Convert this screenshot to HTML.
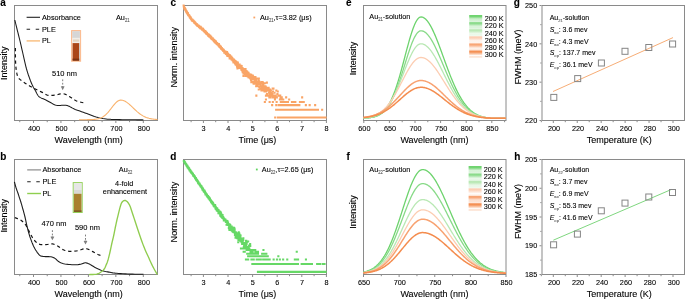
<!DOCTYPE html>
<html><head><meta charset="utf-8"><title>Figure</title>
<style>html,body{margin:0;padding:0;background:#fff;width:685px;height:300px;overflow:hidden}svg{display:block;will-change:transform}</style>
</head><body><svg width="685" height="300" viewBox="0 0 685 300" font-family='"Liberation Sans", sans-serif'><defs><linearGradient id="g0" x1="0" y1="0" x2="0" y2="1"><stop offset="0" stop-color="#6dd36d"/><stop offset="0.22" stop-color="#6dd36d" stop-opacity="0.95"/><stop offset="0.6" stop-color="#6dd36d" stop-opacity="0.25"/><stop offset="0.7" stop-color="#fff"/><stop offset="0.8" stop-color="#6dd36d" stop-opacity="0.2"/><stop offset="1" stop-color="#6dd36d" stop-opacity="0.3"/></linearGradient><linearGradient id="g1" x1="0" y1="0" x2="0" y2="1"><stop offset="0" stop-color="#88da88"/><stop offset="0.22" stop-color="#88da88" stop-opacity="0.95"/><stop offset="0.6" stop-color="#88da88" stop-opacity="0.25"/><stop offset="0.7" stop-color="#fff"/><stop offset="0.8" stop-color="#88da88" stop-opacity="0.2"/><stop offset="1" stop-color="#88da88" stop-opacity="0.3"/></linearGradient><linearGradient id="g2" x1="0" y1="0" x2="0" y2="1"><stop offset="0" stop-color="#b9e8b4"/><stop offset="0.22" stop-color="#b9e8b4" stop-opacity="0.95"/><stop offset="0.6" stop-color="#b9e8b4" stop-opacity="0.25"/><stop offset="0.7" stop-color="#fff"/><stop offset="0.8" stop-color="#b9e8b4" stop-opacity="0.2"/><stop offset="1" stop-color="#b9e8b4" stop-opacity="0.3"/></linearGradient><linearGradient id="g3" x1="0" y1="0" x2="0" y2="1"><stop offset="0" stop-color="#fccdb2"/><stop offset="0.22" stop-color="#fccdb2" stop-opacity="0.95"/><stop offset="0.6" stop-color="#fccdb2" stop-opacity="0.25"/><stop offset="0.7" stop-color="#fff"/><stop offset="0.8" stop-color="#fccdb2" stop-opacity="0.2"/><stop offset="1" stop-color="#fccdb2" stop-opacity="0.3"/></linearGradient><linearGradient id="g4" x1="0" y1="0" x2="0" y2="1"><stop offset="0" stop-color="#f8a271"/><stop offset="0.22" stop-color="#f8a271" stop-opacity="0.95"/><stop offset="0.6" stop-color="#f8a271" stop-opacity="0.25"/><stop offset="0.7" stop-color="#fff"/><stop offset="0.8" stop-color="#f8a271" stop-opacity="0.2"/><stop offset="1" stop-color="#f8a271" stop-opacity="0.3"/></linearGradient><linearGradient id="g5" x1="0" y1="0" x2="0" y2="1"><stop offset="0" stop-color="#f48c4e"/><stop offset="0.22" stop-color="#f48c4e" stop-opacity="0.95"/><stop offset="0.6" stop-color="#f48c4e" stop-opacity="0.25"/><stop offset="0.7" stop-color="#fff"/><stop offset="0.8" stop-color="#f48c4e" stop-opacity="0.2"/><stop offset="1" stop-color="#f48c4e" stop-opacity="0.3"/></linearGradient></defs><rect width="685" height="300" fill="#fff"/><text x="0.3" y="6.3" font-size="10" text-anchor="start" font-weight="bold" fill="#000" stroke="#000" stroke-width="0.1" >a</text><text x="0.3" y="160.1" font-size="10" text-anchor="start" font-weight="bold" fill="#000" stroke="#000" stroke-width="0.1" >b</text><text x="170.5" y="6.3" font-size="10" text-anchor="start" font-weight="bold" fill="#000" stroke="#000" stroke-width="0.1" >c</text><text x="170.3" y="160.1" font-size="10" text-anchor="start" font-weight="bold" fill="#000" stroke="#000" stroke-width="0.1" >d</text><text x="346" y="6.3" font-size="10" text-anchor="start" font-weight="bold" fill="#000" stroke="#000" stroke-width="0.1" >e</text><text x="346.5" y="160.1" font-size="10" text-anchor="start" font-weight="bold" fill="#000" stroke="#000" stroke-width="0.1" >f</text><text x="513.8" y="6.4" font-size="10" text-anchor="start" font-weight="bold" fill="#000" stroke="#000" stroke-width="0.1" >g</text><text x="514.3" y="160.1" font-size="10" text-anchor="start" font-weight="bold" fill="#000" stroke="#000" stroke-width="0.1" >h</text><rect x="14.5" y="5.5" width="143" height="115" fill="none" stroke="#8a8a8a" stroke-width="1"/><path d="M33.5 121v2M60.95 121v2M88.4 121v2M115.85 121v2M143.3 121v2M19.77 121v1.2M47.23 121v1.2M74.68 121v1.2M102.12 121v1.2M129.57 121v1.2" stroke="#8a8a8a" stroke-width="1" fill="none"/><text transform="translate(34.1,131.1) scale(0.9259,1)" font-size="7.88" text-anchor="middle" fill="#000" stroke="#000" stroke-width="0.1" >400</text><text transform="translate(61.55,131.1) scale(0.9259,1)" font-size="7.88" text-anchor="middle" fill="#000" stroke="#000" stroke-width="0.1" >500</text><text transform="translate(89,131.1) scale(0.9259,1)" font-size="7.88" text-anchor="middle" fill="#000" stroke="#000" stroke-width="0.1" >600</text><text transform="translate(116.45,131.1) scale(0.9259,1)" font-size="7.88" text-anchor="middle" fill="#000" stroke="#000" stroke-width="0.1" >700</text><text transform="translate(143.9,131.1) scale(0.9259,1)" font-size="7.88" text-anchor="middle" fill="#000" stroke="#000" stroke-width="0.1" >800</text><text x="88.7" y="142.9" font-size="9" text-anchor="middle" font-weight="normal" fill="#000" stroke="#000" stroke-width="0.1" >Wavelength (nm)</text><text transform="translate(6.6,63.3) rotate(-90)" font-size="9" text-anchor="middle" fill="#000" stroke="#000" stroke-width="0.1">Intensity</text><path d="M26.6 17.3H40" stroke="#222" stroke-width="1.1"/><text transform="translate(42,19.6) scale(0.9259,1)" font-size="7.88" text-anchor="start" fill="#000" stroke="#000" stroke-width="0.1" >Absorbance</text><path d="M26.6 29.2H40" stroke="#222" stroke-width="1.1" stroke-dasharray="3.5 5.6"/><text transform="translate(42,31.5) scale(0.9259,1)" font-size="7.88" text-anchor="start" fill="#000" stroke="#000" stroke-width="0.1" >PLE</text><path d="M26.6 40.9H40" stroke="#f9bd7c" stroke-width="1.4"/><text transform="translate(42,43.2) scale(0.9259,1)" font-size="7.88" text-anchor="start" fill="#000" stroke="#000" stroke-width="0.1" >PL</text><rect x="71.6" y="30.6" width="9" height="30.6" fill="#fde3cf" stroke="#fbb98c" stroke-width="1"/><rect x="72.3" y="31.2" width="7.6" height="6.7" fill="#d6d6d6"/><rect x="72.3" y="37.9" width="7.6" height="5.2" fill="#f1eee9"/><rect x="73" y="39.5" width="6.2" height="2.2" fill="#e3d3c0"/><rect x="72.6" y="43.1" width="6.6" height="17.6" fill="#ab4618"/><rect x="79.2" y="43.1" width="0.8" height="17.6" fill="#cfc8c2"/><rect x="72.6" y="58.6" width="6.6" height="2" fill="#7d3210"/><text transform="translate(116,19.8) scale(0.9259,1)" font-size="7.88" text-anchor="start" fill="#000" stroke="#000" stroke-width="0.1" >Au<tspan font-size="4.5" dy="2" fill="#555" stroke="#555">21</tspan></text><text transform="translate(52,76.1) scale(0.9259,1)" font-size="8.10" text-anchor="start" fill="#000" stroke="#000" stroke-width="0.1" >510 nm</text><path d="M62.7 79.4V86" stroke="#7e7e7e" stroke-width="1" stroke-dasharray="1.8 1.6" fill="none"/><path d="M60.8 86.6Q62.7 85.6 64.6 86.6L62.7 90.2Z" fill="#7e7e7e"/><path d="M14.8 20 L15.03 20.94 L15.34 22.22 L15.71 23.75 L16.13 25.44 L16.56 27.22 L17 29 L17.45 30.81 L17.94 32.74 L18.45 34.75 L18.97 36.81 L19.49 38.91 L20 41 L20.5 43.09 L20.99 45.2 L21.47 47.34 L21.97 49.52 L22.48 51.73 L23 54 L23.54 56.37 L24.1 58.85 L24.66 61.38 L25.24 63.87 L25.82 66.27 L26.4 68.5 L27 70.58 L27.61 72.57 L28.22 74.47 L28.84 76.26 L29.43 77.94 L30 79.5 L30.54 80.93 L31.07 82.24 L31.58 83.44 L32.07 84.54 L32.55 85.55 L33 86.5 L33.42 87.33 L33.8 88.02 L34.17 88.62 L34.53 89.2 L34.9 89.81 L35.3 90.5 L35.73 91.31 L36.18 92.2 L36.64 93.12 L37.1 94.01 L37.56 94.82 L38 95.5 L38.41 96.02 L38.79 96.43 L39.16 96.75 L39.56 97.03 L39.99 97.3 L40.5 97.6 L41.08 97.91 L41.7 98.19 L42.37 98.46 L43.08 98.74 L43.82 99.05 L44.6 99.4 L45.41 99.81 L46.27 100.25 L47.16 100.72 L48.09 101.21 L49.03 101.7 L50 102.2 L50.98 102.74 L51.98 103.33 L53.01 103.93 L54.06 104.49 L55.16 104.97 L56.3 105.3 L57.54 105.46 L58.89 105.47 L60.28 105.4 L61.64 105.29 L62.9 105.21 L64 105.2 L64.87 105.24 L65.56 105.27 L66.14 105.33 L66.72 105.43 L67.38 105.61 L68.2 105.9 L69.17 106.32 L70.22 106.86 L71.35 107.48 L72.56 108.13 L73.84 108.78 L75.2 109.4 L76.66 109.98 L78.21 110.54 L79.84 111.11 L81.53 111.68 L83.25 112.28 L85 112.9 L86.8 113.59 L88.68 114.33 L90.6 115.1 L92.52 115.84 L94.4 116.53 L96.2 117.1 L97.92 117.57 L99.6 117.96 L101.24 118.28 L102.84 118.56 L104.43 118.79 L106 119 L107.48 119.17 L108.84 119.28 L110.17 119.35 L111.59 119.4 L113.16 119.44 L115 119.5 L117.17 119.56 L119.61 119.62 L122.22 119.67 L124.89 119.72 L127.52 119.76 L130 119.8 L132.49 119.83 L135.11 119.85 L137.69 119.87 L140.06 119.88 L142.05 119.89 L143.5 119.9" stroke="#1c1c1c" stroke-width="1.05" fill="none" stroke-linejoin="round" /><path d="M15.4 48 L15.41 49.35 L15.41 51.26 L15.42 53.5 L15.43 55.85 L15.46 58.09 L15.5 60 L15.55 61.59 L15.62 63.04 L15.69 64.38 L15.78 65.63 L15.88 66.83 L16 68 L16.13 69.14 L16.28 70.22 L16.44 71.25 L16.61 72.22 L16.8 73.14 L17 74 L17.18 74.78 L17.33 75.47 L17.49 76.11 L17.71 76.73 L18.03 77.34 L18.5 78 L19.13 78.69 L19.9 79.38 L20.76 80.08 L21.7 80.78 L22.69 81.49 L23.7 82.2 L24.78 82.94 L25.96 83.73 L27.18 84.51 L28.4 85.27 L29.56 85.98 L30.6 86.6 L31.48 87.1 L32.24 87.51 L32.94 87.86 L33.64 88.2 L34.41 88.57 L35.3 89 L36.35 89.51 L37.51 90.08 L38.73 90.67 L39.97 91.27 L41.18 91.85 L42.3 92.4 L43.32 92.95 L44.26 93.52 L45.17 94.08 L46.09 94.59 L47.05 95.01 L48.1 95.3 L49.26 95.45 L50.49 95.48 L51.77 95.42 L53.07 95.3 L54.36 95.15 L55.6 95 L56.81 94.79 L58.02 94.48 L59.22 94.14 L60.39 93.84 L61.52 93.64 L62.6 93.6 L63.6 93.73 L64.52 93.98 L65.4 94.33 L66.28 94.76 L67.2 95.26 L68.2 95.8 L69.31 96.45 L70.51 97.23 L71.75 98.08 L72.98 98.92 L74.14 99.69 L75.2 100.3 L76.11 100.75 L76.92 101.09 L77.66 101.35 L78.39 101.57 L79.16 101.77 L80 102 L81 102.25 L82.13 102.51 L83.3 102.76 L84.4 102.98 L85.33 103.16 L86 103.3" stroke="#141414" stroke-width="1.2" fill="none" stroke-linejoin="round" stroke-dasharray="3.3 2.9" /><path d="M79 119.7 L79.66 119.7 L80.32 119.7 L80.98 119.7 L81.64 119.7 L82.3 119.7 L82.96 119.7 L83.62 119.7 L84.28 119.69 L84.94 119.69 L85.6 119.69 L86.26 119.69 L86.92 119.68 L87.58 119.67 L88.24 119.67 L88.89 119.66 L89.55 119.64 L90.21 119.63 L90.87 119.61 L91.53 119.59 L92.19 119.56 L92.85 119.52 L93.51 119.48 L94.17 119.42 L94.83 119.36 L95.49 119.28 L96.15 119.19 L96.81 119.08 L97.47 118.96 L98.13 118.81 L98.79 118.63 L99.45 118.43 L100.11 118.2 L100.77 117.94 L101.43 117.64 L102.09 117.31 L102.75 116.93 L103.41 116.51 L104.07 116.05 L104.73 115.54 L105.39 114.99 L106.05 114.39 L106.71 113.74 L107.37 113.05 L108.03 112.33 L108.68 111.56 L109.34 110.76 L110 109.94 L110.66 109.1 L111.32 108.24 L111.98 107.38 L112.64 106.52 L113.3 105.68 L113.96 104.86 L114.62 104.08 L115.28 103.34 L115.94 102.65 L116.6 102.04 L117.26 101.49 L117.92 101.03 L118.58 100.65 L119.24 100.37 L119.9 100.19 L120.56 100.1 L121.22 100.11 L121.88 100.18 L122.54 100.31 L123.2 100.48 L123.86 100.72 L124.52 101 L125.18 101.33 L125.84 101.71 L126.5 102.13 L127.16 102.59 L127.82 103.08 L128.47 103.61 L129.13 104.16 L129.79 104.74 L130.45 105.34 L131.11 105.96 L131.77 106.58 L132.43 107.22 L133.09 107.85 L133.75 108.49 L134.41 109.12 L135.07 109.75 L135.73 110.36 L136.39 110.97 L137.05 111.56 L137.71 112.12 L138.37 112.67 L139.03 113.2 L139.69 113.71 L140.35 114.19 L141.01 114.65 L141.67 115.08 L142.33 115.49 L142.99 115.88 L143.65 116.23 L144.31 116.57 L144.97 116.88 L145.63 117.16 L146.29 117.43 L146.95 117.67 L147.61 117.89 L148.26 118.09 L148.92 118.28 L149.58 118.44 L150.24 118.59 L150.9 118.73 L151.56 118.85 L152.22 118.96 L152.88 119.05 L153.54 119.14 L154.2 119.21 L154.86 119.28 L155.52 119.34 L156.18 119.39 L156.84 119.44 L157.5 119.47" stroke="#f9b26c" stroke-width="1.1" fill="none" stroke-linejoin="round" /><rect x="14.5" y="159.5" width="143" height="115" fill="none" stroke="#8a8a8a" stroke-width="1"/><path d="M33.5 275v2M60.95 275v2M88.4 275v2M115.85 275v2M143.3 275v2M19.77 275v1.2M47.23 275v1.2M74.68 275v1.2M102.12 275v1.2M129.57 275v1.2" stroke="#8a8a8a" stroke-width="1" fill="none"/><text transform="translate(34.1,285.1) scale(0.9259,1)" font-size="7.88" text-anchor="middle" fill="#000" stroke="#000" stroke-width="0.1" >400</text><text transform="translate(61.55,285.1) scale(0.9259,1)" font-size="7.88" text-anchor="middle" fill="#000" stroke="#000" stroke-width="0.1" >500</text><text transform="translate(89,285.1) scale(0.9259,1)" font-size="7.88" text-anchor="middle" fill="#000" stroke="#000" stroke-width="0.1" >600</text><text transform="translate(116.45,285.1) scale(0.9259,1)" font-size="7.88" text-anchor="middle" fill="#000" stroke="#000" stroke-width="0.1" >700</text><text transform="translate(143.9,285.1) scale(0.9259,1)" font-size="7.88" text-anchor="middle" fill="#000" stroke="#000" stroke-width="0.1" >800</text><text x="88.7" y="296.9" font-size="9" text-anchor="middle" font-weight="normal" fill="#000" stroke="#000" stroke-width="0.1" >Wavelength (nm)</text><text transform="translate(6.6,215.8) rotate(-90)" font-size="9" text-anchor="middle" fill="#000" stroke="#000" stroke-width="0.1">Intensity</text><path d="M27.2 169.9H41" stroke="#808080" stroke-width="1.1"/><text transform="translate(42.5,172.2) scale(0.9259,1)" font-size="7.88" text-anchor="start" fill="#000" stroke="#000" stroke-width="0.1" >Absorbance</text><path d="M27.2 181.8H41" stroke="#222" stroke-width="1.1" stroke-dasharray="3.5 5.6"/><text transform="translate(42.5,184.1) scale(0.9259,1)" font-size="7.88" text-anchor="start" fill="#000" stroke="#000" stroke-width="0.1" >PLE</text><path d="M27.2 193.5H41" stroke="#8fcf4f" stroke-width="1.4"/><text transform="translate(42.5,195.8) scale(0.9259,1)" font-size="7.88" text-anchor="start" fill="#000" stroke="#000" stroke-width="0.1" >PL</text><rect x="73.2" y="182.6" width="9" height="29.9" fill="#eef6e6" stroke="#93d05a" stroke-width="1"/><rect x="73.9" y="183.2" width="7.6" height="6.8" fill="#e6e6e6"/><rect x="73.9" y="190" width="7.6" height="3.8" fill="#d9d9d6"/><rect x="73.9" y="193.8" width="7.6" height="18.2" fill="#a9802f"/><rect x="73.9" y="210.3" width="7.6" height="1.7" fill="#7f5e22"/><text transform="translate(118.8,171.7) scale(0.9259,1)" font-size="7.88" text-anchor="start" fill="#000" stroke="#000" stroke-width="0.1" >Au<tspan font-size="4.5" dy="2" fill="#555" stroke="#555">22</tspan></text><text transform="translate(124.2,185.6) scale(0.9259,1)" font-size="7.88" text-anchor="middle" fill="#000" stroke="#000" stroke-width="0.1" >4-fold</text><text transform="translate(124.9,194.2) scale(0.9259,1)" font-size="7.88" text-anchor="middle" fill="#000" stroke="#000" stroke-width="0.1" >enhancement</text><text transform="translate(41.4,225.9) scale(0.9259,1)" font-size="8.10" text-anchor="start" fill="#000" stroke="#000" stroke-width="0.1" >470 nm</text><path d="M52.4 230.2V236.1" stroke="#7e7e7e" stroke-width="1" stroke-dasharray="1.8 1.6" fill="none"/><path d="M50.5 236.7Q52.4 235.7 54.3 236.7L52.4 240.3Z" fill="#7e7e7e"/><text transform="translate(74.9,230.4) scale(0.9259,1)" font-size="8.10" text-anchor="start" fill="#000" stroke="#000" stroke-width="0.1" >590 nm</text><path d="M85.5 234.6V240.4" stroke="#7e7e7e" stroke-width="1" stroke-dasharray="1.8 1.6" fill="none"/><path d="M83.6 241Q85.5 240 87.4 241L85.5 244.6Z" fill="#7e7e7e"/><path d="M14.4 181.8 L14.52 182.26 L14.68 182.9 L14.87 183.65 L15.08 184.46 L15.29 185.26 L15.5 186 L15.71 186.69 L15.92 187.37 L16.14 188.06 L16.37 188.73 L16.59 189.38 L16.8 190 L17 190.58 L17.2 191.13 L17.4 191.65 L17.6 192.17 L17.8 192.72 L18 193.3 L18.21 193.91 L18.41 194.54 L18.62 195.18 L18.83 195.85 L19.06 196.56 L19.3 197.3 L19.56 198.08 L19.83 198.88 L20.11 199.71 L20.4 200.59 L20.69 201.52 L21 202.5 L21.32 203.56 L21.64 204.68 L21.98 205.86 L22.32 207.06 L22.66 208.28 L23 209.5 L23.33 210.69 L23.66 211.87 L23.99 213.06 L24.32 214.3 L24.66 215.6 L25 217 L25.35 218.52 L25.7 220.15 L26.05 221.84 L26.41 223.57 L26.8 225.3 L27.2 227 L27.62 228.67 L28.04 230.33 L28.49 232 L28.96 233.67 L29.46 235.33 L30 237 L30.59 238.69 L31.21 240.42 L31.86 242.15 L32.55 243.84 L33.26 245.47 L34 247 L34.79 248.47 L35.63 249.93 L36.5 251.31 L37.37 252.59 L38.21 253.7 L39 254.6 L39.68 255.25 L40.26 255.68 L40.81 255.95 L41.41 256.12 L42.11 256.25 L43 256.4 L44.15 256.53 L45.52 256.59 L47 256.61 L48.48 256.63 L49.85 256.68 L51 256.8 L51.9 256.98 L52.63 257.18 L53.25 257.41 L53.81 257.69 L54.38 258.02 L55 258.4 L55.64 258.88 L56.26 259.44 L56.88 260.06 L57.52 260.69 L58.22 261.28 L59 261.8 L59.84 262.25 L60.7 262.67 L61.62 263.06 L62.63 263.41 L63.75 263.73 L65 264 L66.49 264.23 L68.2 264.42 L70.03 264.57 L71.85 264.69 L73.55 264.76 L75 264.8 L76.19 264.79 L77.2 264.73 L78.09 264.64 L78.91 264.51 L79.69 264.36 L80.5 264.2 L81.33 263.99 L82.13 263.71 L82.91 263.42 L83.65 263.14 L84.35 262.92 L85 262.8 L85.59 262.79 L86.11 262.85 L86.59 262.97 L87.06 263.13 L87.52 263.31 L88 263.5 L88.47 263.68 L88.9 263.87 L89.33 264.09 L89.8 264.34 L90.34 264.64 L91 265 L91.78 265.45 L92.67 265.99 L93.62 266.58 L94.63 267.19 L95.67 267.77 L96.7 268.3 L97.75 268.79 L98.83 269.26 L99.94 269.72 L101.06 270.15 L102.18 270.54 L103.3 270.9 L104.41 271.21 L105.53 271.47 L106.64 271.7 L107.76 271.91 L108.88 272.1 L110 272.3 L111.04 272.49 L111.99 272.67 L112.94 272.84 L113.98 273 L115.2 273.15 L116.7 273.3 L118.53 273.45 L120.64 273.6 L122.93 273.75 L125.31 273.89 L127.7 274 L130 274.1 L132.39 274.17 L134.99 274.22 L137.58 274.25 L139.99 274.27 L142.03 274.29 L143.5 274.3" stroke="#1c1c1c" stroke-width="1.1" fill="none" stroke-linejoin="round" /><path d="M14.8 217.6 L15.15 217.73 L15.64 217.9 L16.21 218.11 L16.83 218.34 L17.44 218.57 L18 218.8 L18.5 218.99 L18.98 219.16 L19.45 219.34 L19.93 219.55 L20.44 219.83 L21 220.2 L21.62 220.68 L22.3 221.24 L23 221.87 L23.7 222.56 L24.38 223.27 L25 224 L25.56 224.75 L26.07 225.54 L26.56 226.36 L27.04 227.21 L27.51 228.09 L28 229 L28.49 229.94 L28.96 230.93 L29.44 231.94 L29.93 232.96 L30.44 233.99 L31 235 L31.6 236.03 L32.22 237.1 L32.88 238.16 L33.56 239.19 L34.26 240.15 L35 241 L35.75 241.76 L36.52 242.45 L37.31 243.07 L38.15 243.61 L39.04 244.05 L40 244.4 L41.09 244.62 L42.3 244.7 L43.56 244.7 L44.81 244.64 L45.98 244.56 L47 244.5 L47.85 244.43 L48.59 244.31 L49.25 244.18 L49.85 244.05 L50.43 243.95 L51 243.9 L51.55 243.89 L52.04 243.9 L52.5 243.94 L52.96 244.02 L53.45 244.13 L54 244.3 L54.6 244.51 L55.22 244.77 L55.88 245.06 L56.56 245.4 L57.26 245.78 L58 246.2 L58.76 246.7 L59.56 247.29 L60.38 247.91 L61.22 248.54 L62.1 249.11 L63 249.6 L63.94 250 L64.93 250.36 L65.94 250.67 L66.96 250.94 L67.99 251.15 L69 251.3 L70.01 251.39 L71.04 251.41 L72.06 251.38 L73.07 251.3 L74.06 251.21 L75 251.1 L75.89 250.97 L76.74 250.81 L77.56 250.63 L78.37 250.43 L79.18 250.22 L80 250 L80.86 249.75 L81.74 249.45 L82.62 249.14 L83.48 248.85 L84.28 248.63 L85 248.5 L85.62 248.48 L86.15 248.54 L86.62 248.67 L87.07 248.83 L87.52 249.02 L88 249.2 L88.47 249.37 L88.89 249.54 L89.31 249.73 L89.78 249.96 L90.33 250.24 L91 250.6 L91.84 251.07 L92.81 251.64 L93.88 252.26 L94.96 252.9 L96.02 253.49 L97 254 L97.95 254.44 L98.93 254.84 L99.88 255.21 L100.74 255.53 L101.47 255.8 L102 256" stroke="#141414" stroke-width="1.2" fill="none" stroke-linejoin="round" stroke-dasharray="3.3 2.9" /><path d="M89 274.6 L90.47 274.54 L92.6 274.47 L94.85 274.34 L96.7 274.1 L97.98 273.75 L98.97 273.3 L99.84 272.78 L100.7 272.2 L101.6 271.57 L102.48 270.88 L103.28 270.13 L104 269.3 L104.59 268.41 L105.08 267.45 L105.53 266.42 L106 265.3 L106.5 264.13 L107 262.9 L107.5 261.55 L108 260 L108.51 258.19 L109.02 256.17 L109.52 254.06 L110 252 L110.44 250.01 L110.85 248.03 L111.26 246.04 L111.7 244 L112.19 241.89 L112.71 239.72 L113.23 237.57 L113.7 235.5 L114.11 233.54 L114.48 231.66 L114.84 229.82 L115.2 228 L115.56 226.25 L115.92 224.55 L116.29 222.83 L116.7 221 L117.17 218.97 L117.69 216.8 L118.22 214.66 L118.7 212.7 L119.13 210.96 L119.52 209.35 L119.9 207.87 L120.3 206.5 L120.69 205.23 L121.08 204.07 L121.5 203.05 L122 202.2 L122.61 201.5 L123.29 200.94 L124.01 200.57 L124.7 200.4 L125.36 200.47 L126.02 200.76 L126.67 201.22 L127.3 201.8 L127.92 202.5 L128.54 203.34 L129.13 204.31 L129.7 205.4 L130.2 206.56 L130.64 207.8 L131.12 209.24 L131.7 211 L132.43 213.19 L133.27 215.72 L134.14 218.4 L135 221 L135.82 223.48 L136.63 225.95 L137.45 228.44 L138.3 231 L139.21 233.7 L140.15 236.5 L141.09 239.25 L142 241.8 L142.86 244.12 L143.7 246.28 L144.51 248.3 L145.3 250.2 L146.06 251.92 L146.78 253.48 L147.49 254.97 L148.2 256.5 L148.9 258.08 L149.59 259.67 L150.29 261.25 L151 262.8 L151.75 264.36 L152.52 265.93 L153.29 267.43 L154 268.8 L154.67 270.04 L155.32 271.19 L155.91 272.19 L156.4 273 L156.79 273.58 L157.1 273.96 L157.33 274.21 L157.5 274.4" stroke="#8fcc4e" stroke-width="1.35" fill="none" stroke-linejoin="round" /><rect x="183.5" y="5.5" width="143" height="115" fill="none" stroke="#8a8a8a" stroke-width="1"/><path d="M203.4 121v2M228 121v2M252.6 121v2M277.2 121v2M301.8 121v2M326.4 121v2M191.1 121v1.2M215.7 121v1.2M240.3 121v1.2M264.9 121v1.2M289.5 121v1.2M314.1 121v1.2" stroke="#8a8a8a" stroke-width="1" fill="none"/><text transform="translate(203.6,131.1) scale(0.9259,1)" font-size="7.88" text-anchor="middle" fill="#000" stroke="#000" stroke-width="0.1" >3</text><text transform="translate(228.2,131.1) scale(0.9259,1)" font-size="7.88" text-anchor="middle" fill="#000" stroke="#000" stroke-width="0.1" >4</text><text transform="translate(252.8,131.1) scale(0.9259,1)" font-size="7.88" text-anchor="middle" fill="#000" stroke="#000" stroke-width="0.1" >5</text><text transform="translate(277.4,131.1) scale(0.9259,1)" font-size="7.88" text-anchor="middle" fill="#000" stroke="#000" stroke-width="0.1" >6</text><text transform="translate(302,131.1) scale(0.9259,1)" font-size="7.88" text-anchor="middle" fill="#000" stroke="#000" stroke-width="0.1" >7</text><text transform="translate(326.6,131.1) scale(0.9259,1)" font-size="7.88" text-anchor="middle" fill="#000" stroke="#000" stroke-width="0.1" >8</text><text x="257.4" y="142.9" font-size="9" text-anchor="middle" font-weight="normal" fill="#000" stroke="#000" stroke-width="0.1" >Time (μs)</text><text transform="translate(176.6,57.2) rotate(-90)" font-size="9.1" text-anchor="middle" fill="#000" stroke="#000" stroke-width="0.1">Norm. intensity</text><path d="M182.6 4.5h2.1v2.1h-2.1zM182.8 5.5h2.1v2.1h-2.1zM182.9 6.0h2.1v2.1h-2.1zM183.1 6.4h2.1v2.1h-2.1zM183.2 7.7h2.1v2.1h-2.1zM183.4 6.7h2.1v2.1h-2.1zM183.6 7.0h2.1v2.1h-2.1zM183.7 7.4h2.1v2.1h-2.1zM183.9 7.6h2.1v2.1h-2.1zM184.0 7.8h2.1v2.1h-2.1zM184.2 8.7h2.1v2.1h-2.1zM184.3 8.3h2.1v2.1h-2.1zM184.5 9.0h2.1v2.1h-2.1zM184.6 8.8h2.1v2.1h-2.1zM184.8 9.7h2.1v2.1h-2.1zM184.9 9.7h2.1v2.1h-2.1zM185.1 10.0h2.1v2.1h-2.1zM185.2 10.4h2.1v2.1h-2.1zM185.4 11.1h2.1v2.1h-2.1zM185.5 10.3h2.1v2.1h-2.1zM185.7 11.1h2.1v2.1h-2.1zM185.8 10.9h2.1v2.1h-2.1zM186.0 11.4h2.1v2.1h-2.1zM186.1 11.8h2.1v2.1h-2.1zM186.3 12.3h2.1v2.1h-2.1zM186.4 12.0h2.1v2.1h-2.1zM186.6 12.6h2.1v2.1h-2.1zM186.7 12.5h2.1v2.1h-2.1zM186.9 12.2h2.1v2.1h-2.1zM187.0 13.3h2.1v2.1h-2.1zM187.2 13.7h2.1v2.1h-2.1zM187.3 14.0h2.1v2.1h-2.1zM187.5 13.9h2.1v2.1h-2.1zM187.6 14.4h2.1v2.1h-2.1zM187.8 14.5h2.1v2.1h-2.1zM187.9 14.4h2.1v2.1h-2.1zM188.1 14.3h2.1v2.1h-2.1zM188.2 14.7h2.1v2.1h-2.1zM188.4 15.1h2.1v2.1h-2.1zM188.5 15.1h2.1v2.1h-2.1zM188.7 15.8h2.1v2.1h-2.1zM188.8 16.3h2.1v2.1h-2.1zM189.0 16.0h2.1v2.1h-2.1zM189.1 16.3h2.1v2.1h-2.1zM189.3 16.0h2.1v2.1h-2.1zM189.4 16.8h2.1v2.1h-2.1zM189.6 17.1h2.1v2.1h-2.1zM189.7 16.8h2.1v2.1h-2.1zM189.9 17.7h2.1v2.1h-2.1zM190.0 17.5h2.1v2.1h-2.1zM190.2 17.8h2.1v2.1h-2.1zM190.3 18.2h2.1v2.1h-2.1zM190.5 18.2h2.1v2.1h-2.1zM190.6 18.4h2.1v2.1h-2.1zM190.8 19.1h2.1v2.1h-2.1zM190.9 18.8h2.1v2.1h-2.1zM191.1 19.0h2.1v2.1h-2.1zM191.2 19.2h2.1v2.1h-2.1zM191.4 19.9h2.1v2.1h-2.1zM191.5 18.7h2.1v2.1h-2.1zM191.7 19.4h2.1v2.1h-2.1zM191.8 19.8h2.1v2.1h-2.1zM192.0 19.4h2.1v2.1h-2.1zM192.1 19.8h2.1v2.1h-2.1zM192.3 20.0h2.1v2.1h-2.1zM192.4 19.7h2.1v2.1h-2.1zM192.6 20.2h2.1v2.1h-2.1zM192.7 20.5h2.1v2.1h-2.1zM192.9 20.6h2.1v2.1h-2.1zM193.0 20.6h2.1v2.1h-2.1zM193.2 21.3h2.1v2.1h-2.1zM193.3 20.7h2.1v2.1h-2.1zM193.5 21.1h2.1v2.1h-2.1zM193.6 21.9h2.1v2.1h-2.1zM193.8 21.5h2.1v2.1h-2.1zM193.9 21.8h2.1v2.1h-2.1zM194.1 21.5h2.1v2.1h-2.1zM194.2 22.2h2.1v2.1h-2.1zM194.4 22.2h2.1v2.1h-2.1zM194.5 22.4h2.1v2.1h-2.1zM194.7 22.2h2.1v2.1h-2.1zM194.8 22.9h2.1v2.1h-2.1zM195.0 23.1h2.1v2.1h-2.1zM195.1 23.5h2.1v2.1h-2.1zM195.3 23.1h2.1v2.1h-2.1zM195.4 23.3h2.1v2.1h-2.1zM195.6 23.1h2.1v2.1h-2.1zM195.7 23.0h2.1v2.1h-2.1zM195.9 23.8h2.1v2.1h-2.1zM196.0 24.4h2.1v2.1h-2.1zM196.2 24.2h2.1v2.1h-2.1zM196.3 23.8h2.1v2.1h-2.1zM196.5 24.2h2.1v2.1h-2.1zM196.6 24.4h2.1v2.1h-2.1zM196.8 24.8h2.1v2.1h-2.1zM196.9 24.9h2.1v2.1h-2.1zM197.1 24.4h2.1v2.1h-2.1zM197.2 24.5h2.1v2.1h-2.1zM197.4 25.1h2.1v2.1h-2.1zM197.5 25.1h2.1v2.1h-2.1zM197.7 24.8h2.1v2.1h-2.1zM197.8 25.1h2.1v2.1h-2.1zM198.0 25.9h2.1v2.1h-2.1zM198.1 26.1h2.1v2.1h-2.1zM198.3 25.9h2.1v2.1h-2.1zM198.4 25.5h2.1v2.1h-2.1zM198.6 25.6h2.1v2.1h-2.1zM198.7 26.0h2.1v2.1h-2.1zM198.9 26.1h2.1v2.1h-2.1zM199.0 26.4h2.1v2.1h-2.1zM199.2 26.8h2.1v2.1h-2.1zM199.3 27.1h2.1v2.1h-2.1zM199.5 25.7h2.1v2.1h-2.1zM199.6 26.7h2.1v2.1h-2.1zM199.8 27.3h2.1v2.1h-2.1zM199.9 26.6h2.1v2.1h-2.1zM200.1 27.1h2.1v2.1h-2.1zM200.2 26.8h2.1v2.1h-2.1zM200.4 27.4h2.1v2.1h-2.1zM200.5 27.6h2.1v2.1h-2.1zM200.7 27.5h2.1v2.1h-2.1zM200.8 27.4h2.1v2.1h-2.1zM201.0 27.9h2.1v2.1h-2.1zM201.1 28.7h2.1v2.1h-2.1zM201.3 28.2h2.1v2.1h-2.1zM201.4 28.1h2.1v2.1h-2.1zM201.6 27.6h2.1v2.1h-2.1zM201.7 28.4h2.1v2.1h-2.1zM201.9 28.1h2.1v2.1h-2.1zM202.0 28.3h2.1v2.1h-2.1zM202.2 28.6h2.1v2.1h-2.1zM202.3 29.4h2.1v2.1h-2.1zM202.5 29.1h2.1v2.1h-2.1zM202.6 29.2h2.1v2.1h-2.1zM202.8 29.7h2.1v2.1h-2.1zM202.9 29.4h2.1v2.1h-2.1zM203.1 29.9h2.1v2.1h-2.1zM203.2 29.7h2.1v2.1h-2.1zM203.4 30.4h2.1v2.1h-2.1zM203.5 30.2h2.1v2.1h-2.1zM203.7 30.7h2.1v2.1h-2.1zM203.8 31.1h2.1v2.1h-2.1zM204.0 30.0h2.1v2.1h-2.1zM204.1 30.5h2.1v2.1h-2.1zM204.3 31.1h2.1v2.1h-2.1zM204.4 31.3h2.1v2.1h-2.1zM204.6 30.4h2.1v2.1h-2.1zM204.7 30.8h2.1v2.1h-2.1zM204.9 31.2h2.1v2.1h-2.1zM205.0 32.1h2.1v2.1h-2.1zM205.2 31.4h2.1v2.1h-2.1zM205.3 32.4h2.1v2.1h-2.1zM205.5 31.7h2.1v2.1h-2.1zM205.6 32.7h2.1v2.1h-2.1zM205.8 32.8h2.1v2.1h-2.1zM205.9 32.1h2.1v2.1h-2.1zM206.1 32.6h2.1v2.1h-2.1zM206.2 33.1h2.1v2.1h-2.1zM206.4 33.0h2.1v2.1h-2.1zM206.5 33.3h2.1v2.1h-2.1zM206.7 33.3h2.1v2.1h-2.1zM206.8 33.3h2.1v2.1h-2.1zM207.0 33.3h2.1v2.1h-2.1zM207.1 34.2h2.1v2.1h-2.1zM207.3 34.7h2.1v2.1h-2.1zM207.4 33.5h2.1v2.1h-2.1zM207.6 34.0h2.1v2.1h-2.1zM207.7 34.8h2.1v2.1h-2.1zM207.9 33.7h2.1v2.1h-2.1zM208.0 34.1h2.1v2.1h-2.1zM208.2 34.0h2.1v2.1h-2.1zM208.3 35.7h2.1v2.1h-2.1zM208.5 35.4h2.1v2.1h-2.1zM208.6 34.7h2.1v2.1h-2.1zM208.8 35.3h2.1v2.1h-2.1zM208.9 34.9h2.1v2.1h-2.1zM209.1 35.5h2.1v2.1h-2.1zM209.2 34.8h2.1v2.1h-2.1zM209.4 36.4h2.1v2.1h-2.1zM209.5 36.2h2.1v2.1h-2.1zM209.7 36.4h2.1v2.1h-2.1zM209.8 36.5h2.1v2.1h-2.1zM210.0 37.1h2.1v2.1h-2.1zM210.1 35.8h2.1v2.1h-2.1zM210.3 36.6h2.1v2.1h-2.1zM210.4 36.7h2.1v2.1h-2.1zM210.6 37.6h2.1v2.1h-2.1zM210.7 37.3h2.1v2.1h-2.1zM210.9 38.1h2.1v2.1h-2.1zM211.0 37.3h2.1v2.1h-2.1zM211.2 37.7h2.1v2.1h-2.1zM211.3 37.3h2.1v2.1h-2.1zM211.5 37.6h2.1v2.1h-2.1zM211.6 37.8h2.1v2.1h-2.1zM211.8 37.6h2.1v2.1h-2.1zM211.9 38.4h2.1v2.1h-2.1zM212.1 38.6h2.1v2.1h-2.1zM212.2 38.7h2.1v2.1h-2.1zM212.4 39.5h2.1v2.1h-2.1zM212.5 38.7h2.1v2.1h-2.1zM212.7 39.5h2.1v2.1h-2.1zM212.8 38.8h2.1v2.1h-2.1zM213.0 40.1h2.1v2.1h-2.1zM213.1 39.2h2.1v2.1h-2.1zM213.3 39.6h2.1v2.1h-2.1zM213.4 39.8h2.1v2.1h-2.1zM213.6 40.7h2.1v2.1h-2.1zM213.7 40.6h2.1v2.1h-2.1zM213.9 41.3h2.1v2.1h-2.1zM214.0 39.8h2.1v2.1h-2.1zM214.2 40.5h2.1v2.1h-2.1zM214.3 40.2h2.1v2.1h-2.1zM214.5 41.2h2.1v2.1h-2.1zM214.6 40.4h2.1v2.1h-2.1zM214.8 41.1h2.1v2.1h-2.1zM214.9 40.5h2.1v2.1h-2.1zM215.1 42.0h2.1v2.1h-2.1zM215.2 41.8h2.1v2.1h-2.1zM215.4 41.8h2.1v2.1h-2.1zM215.5 42.5h2.1v2.1h-2.1zM215.7 43.0h2.1v2.1h-2.1zM215.8 42.5h2.1v2.1h-2.1zM216.0 41.9h2.1v2.1h-2.1zM216.1 42.7h2.1v2.1h-2.1zM216.3 42.4h2.1v2.1h-2.1zM216.4 43.1h2.1v2.1h-2.1zM216.6 43.1h2.1v2.1h-2.1zM216.7 43.7h2.1v2.1h-2.1zM216.9 43.2h2.1v2.1h-2.1zM217.0 43.4h2.1v2.1h-2.1zM217.2 43.0h2.1v2.1h-2.1zM217.3 43.5h2.1v2.1h-2.1zM217.5 44.2h2.1v2.1h-2.1zM217.6 44.6h2.1v2.1h-2.1zM217.8 43.0h2.1v2.1h-2.1zM217.9 43.7h2.1v2.1h-2.1zM218.1 44.4h2.1v2.1h-2.1zM218.2 45.5h2.1v2.1h-2.1zM218.4 45.6h2.1v2.1h-2.1zM218.5 44.6h2.1v2.1h-2.1zM218.7 45.1h2.1v2.1h-2.1zM218.8 45.7h2.1v2.1h-2.1zM219.0 45.2h2.1v2.1h-2.1zM219.1 46.3h2.1v2.1h-2.1zM219.3 45.9h2.1v2.1h-2.1zM219.4 45.7h2.1v2.1h-2.1zM219.6 45.6h2.1v2.1h-2.1zM219.7 46.3h2.1v2.1h-2.1zM219.9 46.0h2.1v2.1h-2.1zM220.0 47.6h2.1v2.1h-2.1zM220.2 47.3h2.1v2.1h-2.1zM220.3 47.1h2.1v2.1h-2.1zM220.5 47.5h2.1v2.1h-2.1zM220.6 47.1h2.1v2.1h-2.1zM220.8 47.2h2.1v2.1h-2.1zM220.9 47.5h2.1v2.1h-2.1zM221.1 48.2h2.1v2.1h-2.1zM221.2 48.2h2.1v2.1h-2.1zM221.4 48.4h2.1v2.1h-2.1zM221.5 48.8h2.1v2.1h-2.1zM221.7 48.6h2.1v2.1h-2.1zM221.8 48.5h2.1v2.1h-2.1zM222.0 49.5h2.1v2.1h-2.1zM222.1 48.2h2.1v2.1h-2.1zM222.3 49.1h2.1v2.1h-2.1zM222.4 49.8h2.1v2.1h-2.1zM222.6 49.7h2.1v2.1h-2.1zM222.7 49.2h2.1v2.1h-2.1zM222.9 49.5h2.1v2.1h-2.1zM223.0 50.2h2.1v2.1h-2.1zM223.2 50.1h2.1v2.1h-2.1zM223.3 51.7h2.1v2.1h-2.1zM223.5 51.1h2.1v2.1h-2.1zM223.6 50.4h2.1v2.1h-2.1zM223.8 51.1h2.1v2.1h-2.1zM223.9 51.4h2.1v2.1h-2.1zM224.1 50.9h2.1v2.1h-2.1zM224.2 50.5h2.1v2.1h-2.1zM224.4 51.7h2.1v2.1h-2.1zM224.5 52.2h2.1v2.1h-2.1zM224.7 50.8h2.1v2.1h-2.1zM224.8 52.5h2.1v2.1h-2.1zM225.0 53.0h2.1v2.1h-2.1zM225.1 52.3h2.1v2.1h-2.1zM225.3 51.5h2.1v2.1h-2.1zM225.4 52.4h2.1v2.1h-2.1zM225.6 52.3h2.1v2.1h-2.1zM225.7 53.2h2.1v2.1h-2.1zM225.9 53.5h2.1v2.1h-2.1zM226.0 50.9h2.1v2.1h-2.1zM226.2 54.7h2.1v2.1h-2.1zM226.3 53.2h2.1v2.1h-2.1zM226.5 52.3h2.1v2.1h-2.1zM226.6 54.5h2.1v2.1h-2.1zM226.8 54.8h2.1v2.1h-2.1zM226.9 54.2h2.1v2.1h-2.1zM227.1 53.6h2.1v2.1h-2.1zM227.2 53.1h2.1v2.1h-2.1zM227.4 54.0h2.1v2.1h-2.1zM227.5 54.5h2.1v2.1h-2.1zM227.7 54.5h2.1v2.1h-2.1zM227.8 55.1h2.1v2.1h-2.1zM228.0 53.9h2.1v2.1h-2.1zM228.1 54.1h2.1v2.1h-2.1zM228.3 54.8h2.1v2.1h-2.1zM228.4 55.2h2.1v2.1h-2.1zM228.6 57.3h2.1v2.1h-2.1zM228.7 54.3h2.1v2.1h-2.1zM228.9 56.0h2.1v2.1h-2.1zM229.0 54.5h2.1v2.1h-2.1zM229.2 55.9h2.1v2.1h-2.1zM229.3 55.5h2.1v2.1h-2.1zM229.5 55.4h2.1v2.1h-2.1zM229.6 56.2h2.1v2.1h-2.1zM229.8 55.7h2.1v2.1h-2.1zM229.9 57.5h2.1v2.1h-2.1zM230.1 55.5h2.1v2.1h-2.1zM230.2 55.8h2.1v2.1h-2.1zM230.4 58.0h2.1v2.1h-2.1zM230.5 58.3h2.1v2.1h-2.1zM230.7 57.9h2.1v2.1h-2.1zM230.8 58.4h2.1v2.1h-2.1zM231.0 56.8h2.1v2.1h-2.1zM231.1 57.7h2.1v2.1h-2.1zM231.3 57.2h2.1v2.1h-2.1zM231.4 59.2h2.1v2.1h-2.1zM231.6 58.9h2.1v2.1h-2.1zM231.7 58.5h2.1v2.1h-2.1zM231.9 59.3h2.1v2.1h-2.1zM232.0 58.2h2.1v2.1h-2.1zM232.2 58.8h2.1v2.1h-2.1zM232.3 60.5h2.1v2.1h-2.1zM232.5 61.3h2.1v2.1h-2.1zM232.6 59.2h2.1v2.1h-2.1zM232.8 58.4h2.1v2.1h-2.1zM232.9 59.0h2.1v2.1h-2.1zM233.1 59.0h2.1v2.1h-2.1zM233.2 60.0h2.1v2.1h-2.1zM233.4 60.0h2.1v2.1h-2.1zM233.5 60.1h2.1v2.1h-2.1zM233.7 59.7h2.1v2.1h-2.1zM233.8 61.3h2.1v2.1h-2.1zM234.0 62.4h2.1v2.1h-2.1zM234.1 60.0h2.1v2.1h-2.1zM234.3 61.3h2.1v2.1h-2.1zM234.4 61.1h2.1v2.1h-2.1zM234.6 60.9h2.1v2.1h-2.1zM234.7 63.6h2.1v2.1h-2.1zM234.9 61.8h2.1v2.1h-2.1zM235.0 60.5h2.1v2.1h-2.1zM235.2 62.1h2.1v2.1h-2.1zM235.3 62.2h2.1v2.1h-2.1zM235.5 61.3h2.1v2.1h-2.1zM235.6 63.0h2.1v2.1h-2.1zM235.8 62.1h2.1v2.1h-2.1zM235.9 65.1h2.1v2.1h-2.1zM236.1 62.6h2.1v2.1h-2.1zM236.2 65.9h2.1v2.1h-2.1zM236.4 67.3h2.1v2.1h-2.1zM236.5 61.2h2.1v2.1h-2.1zM236.7 63.0h2.1v2.1h-2.1zM236.8 61.9h2.1v2.1h-2.1zM237.0 63.7h2.1v2.1h-2.1zM237.1 65.7h2.1v2.1h-2.1zM237.3 65.9h2.1v2.1h-2.1zM237.4 64.3h2.1v2.1h-2.1zM237.6 64.2h2.1v2.1h-2.1zM237.7 64.9h2.1v2.1h-2.1zM237.9 65.4h2.1v2.1h-2.1zM238.0 63.9h2.1v2.1h-2.1zM238.2 64.6h2.1v2.1h-2.1zM238.3 66.7h2.1v2.1h-2.1zM238.5 66.8h2.1v2.1h-2.1zM238.6 63.4h2.1v2.1h-2.1zM238.8 65.3h2.1v2.1h-2.1zM238.9 66.1h2.1v2.1h-2.1zM239.1 66.3h2.1v2.1h-2.1zM239.2 66.4h2.1v2.1h-2.1zM239.4 66.1h2.1v2.1h-2.1zM239.5 66.4h2.1v2.1h-2.1zM239.7 67.2h2.1v2.1h-2.1zM239.8 67.1h2.1v2.1h-2.1zM240.0 66.1h2.1v2.1h-2.1zM240.1 64.8h2.1v2.1h-2.1zM240.3 67.7h2.1v2.1h-2.1zM240.4 68.7h2.1v2.1h-2.1zM240.6 64.9h2.1v2.1h-2.1zM240.7 69.0h2.1v2.1h-2.1zM240.9 67.6h2.1v2.1h-2.1zM241.0 67.9h2.1v2.1h-2.1zM241.2 67.8h2.1v2.1h-2.1zM241.3 69.7h2.1v2.1h-2.1zM241.5 66.9h2.1v2.1h-2.1zM241.6 71.1h2.1v2.1h-2.1zM241.8 68.8h2.1v2.1h-2.1zM241.9 68.3h2.1v2.1h-2.1zM242.1 68.7h2.1v2.1h-2.1zM242.2 68.6h2.1v2.1h-2.1zM242.4 74.8h2.1v2.1h-2.1zM242.5 72.3h2.1v2.1h-2.1zM242.7 68.5h2.1v2.1h-2.1zM242.8 70.3h2.1v2.1h-2.1zM243.0 67.9h2.1v2.1h-2.1zM243.1 68.8h2.1v2.1h-2.1zM243.3 70.1h2.1v2.1h-2.1zM243.4 71.7h2.1v2.1h-2.1zM243.6 71.8h2.1v2.1h-2.1zM243.7 72.5h2.1v2.1h-2.1zM243.9 72.3h2.1v2.1h-2.1zM244.0 73.2h2.1v2.1h-2.1zM244.2 68.4h2.1v2.1h-2.1zM244.3 68.8h2.1v2.1h-2.1zM244.5 68.1h2.1v2.1h-2.1zM244.6 74.9h2.1v2.1h-2.1zM244.8 71.5h2.1v2.1h-2.1zM244.9 72.4h2.1v2.1h-2.1zM245.1 71.8h2.1v2.1h-2.1zM245.2 69.9h2.1v2.1h-2.1zM245.4 75.0h2.1v2.1h-2.1zM245.5 72.7h2.1v2.1h-2.1zM245.7 72.6h2.1v2.1h-2.1zM245.8 73.8h2.1v2.1h-2.1zM246.0 72.2h2.1v2.1h-2.1zM246.1 70.4h2.1v2.1h-2.1zM246.3 71.3h2.1v2.1h-2.1zM246.4 72.1h2.1v2.1h-2.1zM246.6 71.6h2.1v2.1h-2.1zM246.7 75.3h2.1v2.1h-2.1zM246.9 72.1h2.1v2.1h-2.1zM247.0 74.7h2.1v2.1h-2.1zM247.2 73.1h2.1v2.1h-2.1zM247.3 73.6h2.1v2.1h-2.1zM247.5 71.8h2.1v2.1h-2.1zM247.6 76.3h2.1v2.1h-2.1zM247.8 74.5h2.1v2.1h-2.1zM247.9 74.4h2.1v2.1h-2.1zM248.1 75.1h2.1v2.1h-2.1zM248.2 73.4h2.1v2.1h-2.1zM248.4 73.2h2.1v2.1h-2.1zM248.5 74.6h2.1v2.1h-2.1zM248.7 76.4h2.1v2.1h-2.1zM248.8 73.8h2.1v2.1h-2.1zM249.0 76.7h2.1v2.1h-2.1zM249.1 76.7h2.1v2.1h-2.1zM249.3 77.1h2.1v2.1h-2.1zM249.4 73.6h2.1v2.1h-2.1zM249.6 75.8h2.1v2.1h-2.1zM249.7 77.8h2.1v2.1h-2.1zM249.9 78.5h2.1v2.1h-2.1zM250.0 78.9h2.1v2.1h-2.1zM250.2 73.8h2.1v2.1h-2.1zM250.3 81.1h2.1v2.1h-2.1zM250.5 78.9h2.1v2.1h-2.1zM250.6 75.5h2.1v2.1h-2.1zM250.8 74.6h2.1v2.1h-2.1zM250.9 77.4h2.1v2.1h-2.1zM251.1 75.8h2.1v2.1h-2.1zM251.2 75.8h2.1v2.1h-2.1zM251.4 75.5h2.1v2.1h-2.1zM251.5 77.8h2.1v2.1h-2.1zM251.7 74.6h2.1v2.1h-2.1zM251.8 77.4h2.1v2.1h-2.1zM252.0 75.2h2.1v2.1h-2.1zM252.1 81.1h2.1v2.1h-2.1zM252.3 76.4h2.1v2.1h-2.1zM252.4 81.6h2.1v2.1h-2.1zM252.6 82.7h2.1v2.1h-2.1zM252.7 77.8h2.1v2.1h-2.1zM252.9 81.1h2.1v2.1h-2.1zM253.0 78.1h2.1v2.1h-2.1zM253.2 82.2h2.1v2.1h-2.1zM253.3 76.1h2.1v2.1h-2.1zM253.5 79.3h2.1v2.1h-2.1zM253.6 82.7h2.1v2.1h-2.1zM253.8 79.3h2.1v2.1h-2.1zM253.9 77.8h2.1v2.1h-2.1zM254.1 82.2h2.1v2.1h-2.1zM254.2 78.9h2.1v2.1h-2.1zM254.4 76.1h2.1v2.1h-2.1zM254.5 78.5h2.1v2.1h-2.1zM254.7 80.7h2.1v2.1h-2.1zM254.8 82.2h2.1v2.1h-2.1zM255.0 79.3h2.1v2.1h-2.1zM255.1 85.2h2.1v2.1h-2.1zM255.3 94.6h2.1v2.1h-2.1zM255.4 82.7h2.1v2.1h-2.1zM255.6 84.6h2.1v2.1h-2.1zM255.7 77.4h2.1v2.1h-2.1zM255.9 81.1h2.1v2.1h-2.1zM256.0 84.6h2.1v2.1h-2.1zM256.2 85.2h2.1v2.1h-2.1zM256.3 80.7h2.1v2.1h-2.1zM256.5 84.6h2.1v2.1h-2.1zM256.6 83.9h2.1v2.1h-2.1zM256.8 82.7h2.1v2.1h-2.1zM256.9 82.2h2.1v2.1h-2.1zM257.1 82.2h2.1v2.1h-2.1zM257.2 82.2h2.1v2.1h-2.1zM257.4 79.8h2.1v2.1h-2.1zM257.5 78.9h2.1v2.1h-2.1zM257.7 88.5h2.1v2.1h-2.1zM257.8 77.4h2.1v2.1h-2.1zM258.0 82.7h2.1v2.1h-2.1zM258.1 80.2h2.1v2.1h-2.1zM258.3 86.0h2.1v2.1h-2.1zM258.4 82.7h2.1v2.1h-2.1zM258.6 82.7h2.1v2.1h-2.1zM258.7 83.3h2.1v2.1h-2.1zM258.9 81.6h2.1v2.1h-2.1zM259.0 82.2h2.1v2.1h-2.1zM259.2 87.6h2.1v2.1h-2.1zM259.3 84.6h2.1v2.1h-2.1zM259.5 82.2h2.1v2.1h-2.1zM259.6 82.7h2.1v2.1h-2.1zM259.8 85.2h2.1v2.1h-2.1zM259.9 85.2h2.1v2.1h-2.1zM260.1 85.2h2.1v2.1h-2.1zM260.2 88.5h2.1v2.1h-2.1zM260.4 89.5h2.1v2.1h-2.1zM260.5 81.1h2.1v2.1h-2.1zM260.7 86.8h2.1v2.1h-2.1zM260.8 85.2h2.1v2.1h-2.1zM261.0 87.6h2.1v2.1h-2.1zM261.1 82.2h2.1v2.1h-2.1zM261.3 81.1h2.1v2.1h-2.1zM261.4 86.8h2.1v2.1h-2.1zM261.6 84.6h2.1v2.1h-2.1zM261.7 88.5h2.1v2.1h-2.1zM261.9 81.6h2.1v2.1h-2.1zM262.0 83.9h2.1v2.1h-2.1zM262.2 89.5h2.1v2.1h-2.1zM262.3 83.3h2.1v2.1h-2.1zM262.5 85.2h2.1v2.1h-2.1zM262.6 85.2h2.1v2.1h-2.1zM262.8 86.0h2.1v2.1h-2.1zM262.9 89.5h2.1v2.1h-2.1zM263.1 89.5h2.1v2.1h-2.1zM263.2 85.2h2.1v2.1h-2.1zM263.4 87.6h2.1v2.1h-2.1zM263.5 90.5h2.1v2.1h-2.1zM263.7 82.2h2.1v2.1h-2.1zM263.8 88.5h2.1v2.1h-2.1zM264.0 89.5h2.1v2.1h-2.1zM264.1 90.5h2.1v2.1h-2.1zM264.3 86.0h2.1v2.1h-2.1zM264.4 85.2h2.1v2.1h-2.1zM264.6 87.6h2.1v2.1h-2.1zM264.7 86.0h2.1v2.1h-2.1zM264.9 94.6h2.1v2.1h-2.1zM265.0 90.5h2.1v2.1h-2.1zM265.2 90.5h2.1v2.1h-2.1zM265.3 88.5h2.1v2.1h-2.1zM265.5 87.6h2.1v2.1h-2.1zM265.8 81.6h2.1v2.1h-2.1zM265.9 93.1h2.1v2.1h-2.1zM266.1 88.5h2.1v2.1h-2.1zM266.2 86.8h2.1v2.1h-2.1zM266.4 86.8h2.1v2.1h-2.1zM266.5 89.5h2.1v2.1h-2.1zM266.8 94.6h2.1v2.1h-2.1zM267.0 87.6h2.1v2.1h-2.1zM267.1 94.6h2.1v2.1h-2.1zM267.3 94.6h2.1v2.1h-2.1zM267.6 86.8h2.1v2.1h-2.1zM267.7 89.5h2.1v2.1h-2.1zM267.9 94.6h2.1v2.1h-2.1zM268.0 91.7h2.1v2.1h-2.1zM268.2 91.7h2.1v2.1h-2.1zM268.3 96.3h2.1v2.1h-2.1zM268.5 93.1h2.1v2.1h-2.1zM268.6 90.5h2.1v2.1h-2.1zM268.8 90.5h2.1v2.1h-2.1zM268.9 88.5h2.1v2.1h-2.1zM269.1 91.7h2.1v2.1h-2.1zM269.2 94.6h2.1v2.1h-2.1zM269.4 91.7h2.1v2.1h-2.1zM269.5 96.3h2.1v2.1h-2.1zM269.8 89.5h2.1v2.1h-2.1zM270.0 94.6h2.1v2.1h-2.1zM270.1 93.1h2.1v2.1h-2.1zM270.3 91.7h2.1v2.1h-2.1zM270.6 91.7h2.1v2.1h-2.1zM270.7 91.7h2.1v2.1h-2.1zM270.9 94.6h2.1v2.1h-2.1zM271.0 93.1h2.1v2.1h-2.1zM271.3 93.1h2.1v2.1h-2.1zM271.5 94.6h2.1v2.1h-2.1zM271.6 87.6h2.1v2.1h-2.1zM271.8 96.3h2.1v2.1h-2.1zM271.9 90.5h2.1v2.1h-2.1zM272.1 94.6h2.1v2.1h-2.1zM272.2 94.6h2.1v2.1h-2.1zM272.4 87.6h2.1v2.1h-2.1zM272.5 96.3h2.1v2.1h-2.1zM273.1 96.3h2.1v2.1h-2.1zM273.2 96.3h2.1v2.1h-2.1zM273.5 91.7h2.1v2.1h-2.1zM273.7 94.6h2.1v2.1h-2.1zM274.1 96.3h2.1v2.1h-2.1zM274.7 94.6h2.1v2.1h-2.1zM275.3 89.5h2.1v2.1h-2.1zM275.8 96.3h2.1v2.1h-2.1zM276.4 93.1h2.1v2.1h-2.1zM276.7 90.5h2.1v2.1h-2.1zM277.4 94.6h2.1v2.1h-2.1zM279.2 94.6h2.1v2.1h-2.1zM279.5 96.3h2.1v2.1h-2.1zM280.7 96.3h2.1v2.1h-2.1zM285.1 96.3h2.1v2.1h-2.1zM301.1 96.3h2.1v2.1h-2.1zM274.1 116.5h2.1v2.1h-2.1zM276.8 116.5h49.8v2.1h-49.8zM275.1 108.7h8.9v2.1h-8.9zM282.9 108.7h34.0v2.1h-34.0zM316.9 108.7h2.1v2.1h-2.1zM321.1 108.7h2.1v2.1h-2.1zM271.1 104.1h2.1v2.1h-2.1zM275.2 104.1h2.1v2.1h-2.1zM277.7 104.1h13.8v2.1h-13.8zM290.6 104.1h9.8v2.1h-9.8zM304.8 104.1h2.1v2.1h-2.1zM308.6 104.1h2.1v2.1h-2.1zM314.1 104.1h2.1v2.1h-2.1zM263.8 100.9h2.1v2.1h-2.1zM268.6 100.9h2.1v2.1h-2.1zM271.8 100.9h2.1v2.1h-2.1zM275.6 100.9h2.1v2.1h-2.1zM279.8 100.9h9.2v2.1h-9.2zM290.9 100.9h5.5v2.1h-5.5zM298.9 100.9h5.9v2.1h-5.9zM264.9 98.4h2.1v2.1h-2.1zM273.9 98.4h2.1v2.1h-2.1zM278.9 98.4h5.4v2.1h-5.4zM288.1 98.4h2.1v2.1h-2.1z" fill="#f9a466"/><rect x="253.4" y="16.6" width="1.8" height="1.8" fill="#f9a466"/><text transform="translate(260,20.2) scale(0.9259,1)" font-size="7.88" text-anchor="start" fill="#000" stroke="#000" stroke-width="0.1" >Au<tspan font-size="4.5" dy="2" fill="#555" stroke="#555">21</tspan><tspan dy="-2">,τ=3.82 (μs)</tspan></text><rect x="183.5" y="159.5" width="143" height="115" fill="none" stroke="#8a8a8a" stroke-width="1"/><path d="M203.4 275v2M228 275v2M252.6 275v2M277.2 275v2M301.8 275v2M326.4 275v2M191.1 275v1.2M215.7 275v1.2M240.3 275v1.2M264.9 275v1.2M289.5 275v1.2M314.1 275v1.2" stroke="#8a8a8a" stroke-width="1" fill="none"/><text transform="translate(203.6,285.1) scale(0.9259,1)" font-size="7.88" text-anchor="middle" fill="#000" stroke="#000" stroke-width="0.1" >3</text><text transform="translate(228.2,285.1) scale(0.9259,1)" font-size="7.88" text-anchor="middle" fill="#000" stroke="#000" stroke-width="0.1" >4</text><text transform="translate(252.8,285.1) scale(0.9259,1)" font-size="7.88" text-anchor="middle" fill="#000" stroke="#000" stroke-width="0.1" >5</text><text transform="translate(277.4,285.1) scale(0.9259,1)" font-size="7.88" text-anchor="middle" fill="#000" stroke="#000" stroke-width="0.1" >6</text><text transform="translate(302,285.1) scale(0.9259,1)" font-size="7.88" text-anchor="middle" fill="#000" stroke="#000" stroke-width="0.1" >7</text><text transform="translate(326.6,285.1) scale(0.9259,1)" font-size="7.88" text-anchor="middle" fill="#000" stroke="#000" stroke-width="0.1" >8</text><text x="257.4" y="296.9" font-size="9" text-anchor="middle" font-weight="normal" fill="#000" stroke="#000" stroke-width="0.1" >Time (μs)</text><text transform="translate(176.6,212.1) rotate(-90)" font-size="9.1" text-anchor="middle" fill="#000" stroke="#000" stroke-width="0.1">Norm. intensity</text><path d="M182.8 160.0h2.1v2.1h-2.1zM182.9 159.9h2.1v2.1h-2.1zM183.1 160.2h2.1v2.1h-2.1zM183.2 161.0h2.1v2.1h-2.1zM183.4 160.7h2.1v2.1h-2.1zM183.5 161.2h2.1v2.1h-2.1zM183.7 161.1h2.1v2.1h-2.1zM183.8 161.8h2.1v2.1h-2.1zM184.0 161.8h2.1v2.1h-2.1zM184.1 161.8h2.1v2.1h-2.1zM184.3 162.4h2.1v2.1h-2.1zM184.4 162.7h2.1v2.1h-2.1zM184.6 162.7h2.1v2.1h-2.1zM184.7 163.1h2.1v2.1h-2.1zM184.9 163.2h2.1v2.1h-2.1zM185.0 163.4h2.1v2.1h-2.1zM185.2 163.5h2.1v2.1h-2.1zM185.3 163.5h2.1v2.1h-2.1zM185.5 164.4h2.1v2.1h-2.1zM185.6 164.4h2.1v2.1h-2.1zM185.8 164.6h2.1v2.1h-2.1zM185.9 165.0h2.1v2.1h-2.1zM186.1 164.4h2.1v2.1h-2.1zM186.2 165.2h2.1v2.1h-2.1zM186.4 166.2h2.1v2.1h-2.1zM186.5 165.3h2.1v2.1h-2.1zM186.7 166.2h2.1v2.1h-2.1zM186.8 166.4h2.1v2.1h-2.1zM187.0 166.7h2.1v2.1h-2.1zM187.1 166.3h2.1v2.1h-2.1zM187.3 166.7h2.1v2.1h-2.1zM187.4 166.7h2.1v2.1h-2.1zM187.6 167.3h2.1v2.1h-2.1zM187.7 167.7h2.1v2.1h-2.1zM187.9 167.7h2.1v2.1h-2.1zM188.0 167.3h2.1v2.1h-2.1zM188.2 168.2h2.1v2.1h-2.1zM188.3 168.4h2.1v2.1h-2.1zM188.5 168.5h2.1v2.1h-2.1zM188.6 169.3h2.1v2.1h-2.1zM188.8 169.0h2.1v2.1h-2.1zM188.9 169.1h2.1v2.1h-2.1zM189.1 169.1h2.1v2.1h-2.1zM189.2 169.5h2.1v2.1h-2.1zM189.4 169.9h2.1v2.1h-2.1zM189.5 170.3h2.1v2.1h-2.1zM189.7 170.6h2.1v2.1h-2.1zM189.8 170.7h2.1v2.1h-2.1zM190.0 171.0h2.1v2.1h-2.1zM190.1 170.5h2.1v2.1h-2.1zM190.3 170.9h2.1v2.1h-2.1zM190.4 172.0h2.1v2.1h-2.1zM190.6 171.5h2.1v2.1h-2.1zM190.7 171.9h2.1v2.1h-2.1zM190.9 171.9h2.1v2.1h-2.1zM191.0 172.2h2.1v2.1h-2.1zM191.2 172.5h2.1v2.1h-2.1zM191.3 172.3h2.1v2.1h-2.1zM191.5 172.5h2.1v2.1h-2.1zM191.6 172.9h2.1v2.1h-2.1zM191.8 173.1h2.1v2.1h-2.1zM191.9 172.9h2.1v2.1h-2.1zM192.1 174.0h2.1v2.1h-2.1zM192.2 174.5h2.1v2.1h-2.1zM192.4 174.6h2.1v2.1h-2.1zM192.5 174.7h2.1v2.1h-2.1zM192.7 174.1h2.1v2.1h-2.1zM192.8 175.0h2.1v2.1h-2.1zM193.0 174.9h2.1v2.1h-2.1zM193.1 175.0h2.1v2.1h-2.1zM193.3 175.1h2.1v2.1h-2.1zM193.4 175.4h2.1v2.1h-2.1zM193.6 175.6h2.1v2.1h-2.1zM193.7 175.8h2.1v2.1h-2.1zM193.9 176.2h2.1v2.1h-2.1zM194.0 176.6h2.1v2.1h-2.1zM194.2 176.9h2.1v2.1h-2.1zM194.3 177.0h2.1v2.1h-2.1zM194.5 177.3h2.1v2.1h-2.1zM194.6 176.9h2.1v2.1h-2.1zM194.8 178.0h2.1v2.1h-2.1zM194.9 177.2h2.1v2.1h-2.1zM195.1 178.0h2.1v2.1h-2.1zM195.2 178.9h2.1v2.1h-2.1zM195.4 178.6h2.1v2.1h-2.1zM195.5 179.1h2.1v2.1h-2.1zM195.7 179.1h2.1v2.1h-2.1zM195.8 179.1h2.1v2.1h-2.1zM196.0 179.0h2.1v2.1h-2.1zM196.1 179.6h2.1v2.1h-2.1zM196.3 179.9h2.1v2.1h-2.1zM196.4 179.9h2.1v2.1h-2.1zM196.6 180.4h2.1v2.1h-2.1zM196.7 180.5h2.1v2.1h-2.1zM196.9 180.6h2.1v2.1h-2.1zM197.0 181.6h2.1v2.1h-2.1zM197.2 181.0h2.1v2.1h-2.1zM197.3 181.6h2.1v2.1h-2.1zM197.5 181.8h2.1v2.1h-2.1zM197.6 182.5h2.1v2.1h-2.1zM197.8 182.7h2.1v2.1h-2.1zM197.9 182.5h2.1v2.1h-2.1zM198.1 182.6h2.1v2.1h-2.1zM198.2 182.6h2.1v2.1h-2.1zM198.4 182.6h2.1v2.1h-2.1zM198.5 183.5h2.1v2.1h-2.1zM198.7 183.3h2.1v2.1h-2.1zM198.8 183.7h2.1v2.1h-2.1zM199.0 184.0h2.1v2.1h-2.1zM199.1 183.9h2.1v2.1h-2.1zM199.3 184.1h2.1v2.1h-2.1zM199.4 185.2h2.1v2.1h-2.1zM199.6 185.0h2.1v2.1h-2.1zM199.7 185.1h2.1v2.1h-2.1zM199.9 185.3h2.1v2.1h-2.1zM200.0 185.2h2.1v2.1h-2.1zM200.2 185.7h2.1v2.1h-2.1zM200.3 185.0h2.1v2.1h-2.1zM200.5 185.9h2.1v2.1h-2.1zM200.6 186.0h2.1v2.1h-2.1zM200.8 187.0h2.1v2.1h-2.1zM200.9 186.9h2.1v2.1h-2.1zM201.1 187.5h2.1v2.1h-2.1zM201.2 186.7h2.1v2.1h-2.1zM201.4 187.2h2.1v2.1h-2.1zM201.5 188.6h2.1v2.1h-2.1zM201.7 187.6h2.1v2.1h-2.1zM201.8 188.3h2.1v2.1h-2.1zM202.0 188.1h2.1v2.1h-2.1zM202.1 188.6h2.1v2.1h-2.1zM202.3 189.1h2.1v2.1h-2.1zM202.4 189.0h2.1v2.1h-2.1zM202.6 189.8h2.1v2.1h-2.1zM202.7 190.1h2.1v2.1h-2.1zM202.9 190.2h2.1v2.1h-2.1zM203.0 189.6h2.1v2.1h-2.1zM203.2 190.1h2.1v2.1h-2.1zM203.3 190.8h2.1v2.1h-2.1zM203.5 189.8h2.1v2.1h-2.1zM203.6 190.8h2.1v2.1h-2.1zM203.8 190.8h2.1v2.1h-2.1zM203.9 191.4h2.1v2.1h-2.1zM204.1 191.2h2.1v2.1h-2.1zM204.2 192.2h2.1v2.1h-2.1zM204.4 192.1h2.1v2.1h-2.1zM204.5 193.4h2.1v2.1h-2.1zM204.7 192.4h2.1v2.1h-2.1zM204.8 192.5h2.1v2.1h-2.1zM205.0 192.7h2.1v2.1h-2.1zM205.1 193.2h2.1v2.1h-2.1zM205.3 192.9h2.1v2.1h-2.1zM205.4 193.4h2.1v2.1h-2.1zM205.6 194.5h2.1v2.1h-2.1zM205.7 193.8h2.1v2.1h-2.1zM205.9 194.0h2.1v2.1h-2.1zM206.0 194.7h2.1v2.1h-2.1zM206.2 194.7h2.1v2.1h-2.1zM206.3 195.0h2.1v2.1h-2.1zM206.5 195.7h2.1v2.1h-2.1zM206.6 195.9h2.1v2.1h-2.1zM206.8 196.0h2.1v2.1h-2.1zM206.9 195.0h2.1v2.1h-2.1zM207.1 196.2h2.1v2.1h-2.1zM207.2 195.8h2.1v2.1h-2.1zM207.4 196.7h2.1v2.1h-2.1zM207.5 196.6h2.1v2.1h-2.1zM207.7 197.3h2.1v2.1h-2.1zM207.8 197.2h2.1v2.1h-2.1zM208.0 196.3h2.1v2.1h-2.1zM208.1 197.4h2.1v2.1h-2.1zM208.3 197.7h2.1v2.1h-2.1zM208.4 196.9h2.1v2.1h-2.1zM208.6 197.9h2.1v2.1h-2.1zM208.7 198.7h2.1v2.1h-2.1zM208.9 197.7h2.1v2.1h-2.1zM209.0 198.9h2.1v2.1h-2.1zM209.2 198.7h2.1v2.1h-2.1zM209.3 199.1h2.1v2.1h-2.1zM209.5 199.4h2.1v2.1h-2.1zM209.6 199.4h2.1v2.1h-2.1zM209.8 200.0h2.1v2.1h-2.1zM209.9 199.6h2.1v2.1h-2.1zM210.1 201.2h2.1v2.1h-2.1zM210.2 201.0h2.1v2.1h-2.1zM210.4 200.3h2.1v2.1h-2.1zM210.5 200.3h2.1v2.1h-2.1zM210.7 201.0h2.1v2.1h-2.1zM210.8 201.5h2.1v2.1h-2.1zM211.0 201.0h2.1v2.1h-2.1zM211.1 202.3h2.1v2.1h-2.1zM211.3 201.6h2.1v2.1h-2.1zM211.4 201.6h2.1v2.1h-2.1zM211.6 201.9h2.1v2.1h-2.1zM211.7 201.7h2.1v2.1h-2.1zM211.9 202.3h2.1v2.1h-2.1zM212.0 203.0h2.1v2.1h-2.1zM212.2 203.5h2.1v2.1h-2.1zM212.3 202.8h2.1v2.1h-2.1zM212.5 203.7h2.1v2.1h-2.1zM212.6 204.6h2.1v2.1h-2.1zM212.8 203.9h2.1v2.1h-2.1zM212.9 204.7h2.1v2.1h-2.1zM213.1 203.9h2.1v2.1h-2.1zM213.2 205.4h2.1v2.1h-2.1zM213.4 203.9h2.1v2.1h-2.1zM213.5 204.3h2.1v2.1h-2.1zM213.7 204.2h2.1v2.1h-2.1zM213.8 205.3h2.1v2.1h-2.1zM214.0 204.0h2.1v2.1h-2.1zM214.1 204.6h2.1v2.1h-2.1zM214.3 205.4h2.1v2.1h-2.1zM214.4 206.8h2.1v2.1h-2.1zM214.6 207.7h2.1v2.1h-2.1zM214.7 206.1h2.1v2.1h-2.1zM214.9 207.1h2.1v2.1h-2.1zM215.0 207.0h2.1v2.1h-2.1zM215.2 207.8h2.1v2.1h-2.1zM215.3 207.9h2.1v2.1h-2.1zM215.5 208.0h2.1v2.1h-2.1zM215.6 209.1h2.1v2.1h-2.1zM215.8 208.4h2.1v2.1h-2.1zM215.9 207.6h2.1v2.1h-2.1zM216.1 207.2h2.1v2.1h-2.1zM216.2 208.4h2.1v2.1h-2.1zM216.4 209.8h2.1v2.1h-2.1zM216.5 209.5h2.1v2.1h-2.1zM216.7 209.1h2.1v2.1h-2.1zM216.8 209.7h2.1v2.1h-2.1zM217.0 208.8h2.1v2.1h-2.1zM217.1 209.6h2.1v2.1h-2.1zM217.3 209.4h2.1v2.1h-2.1zM217.4 212.1h2.1v2.1h-2.1zM217.6 209.3h2.1v2.1h-2.1zM217.7 211.6h2.1v2.1h-2.1zM217.9 212.2h2.1v2.1h-2.1zM218.0 211.8h2.1v2.1h-2.1zM218.2 210.8h2.1v2.1h-2.1zM218.3 211.1h2.1v2.1h-2.1zM218.5 212.5h2.1v2.1h-2.1zM218.6 210.5h2.1v2.1h-2.1zM218.8 212.1h2.1v2.1h-2.1zM218.9 212.4h2.1v2.1h-2.1zM219.1 210.8h2.1v2.1h-2.1zM219.2 214.2h2.1v2.1h-2.1zM219.4 214.7h2.1v2.1h-2.1zM219.5 212.3h2.1v2.1h-2.1zM219.7 214.9h2.1v2.1h-2.1zM219.8 211.6h2.1v2.1h-2.1zM220.0 213.1h2.1v2.1h-2.1zM220.1 212.8h2.1v2.1h-2.1zM220.3 214.2h2.1v2.1h-2.1zM220.4 216.0h2.1v2.1h-2.1zM220.6 213.8h2.1v2.1h-2.1zM220.7 215.3h2.1v2.1h-2.1zM220.9 215.5h2.1v2.1h-2.1zM221.0 215.4h2.1v2.1h-2.1zM221.2 216.7h2.1v2.1h-2.1zM221.3 216.1h2.1v2.1h-2.1zM221.5 214.0h2.1v2.1h-2.1zM221.6 216.9h2.1v2.1h-2.1zM221.8 216.7h2.1v2.1h-2.1zM221.9 216.2h2.1v2.1h-2.1zM222.1 216.0h2.1v2.1h-2.1zM222.2 216.5h2.1v2.1h-2.1zM222.4 217.6h2.1v2.1h-2.1zM222.5 217.3h2.1v2.1h-2.1zM222.7 217.2h2.1v2.1h-2.1zM222.8 219.3h2.1v2.1h-2.1zM223.0 219.3h2.1v2.1h-2.1zM223.1 217.7h2.1v2.1h-2.1zM223.3 218.1h2.1v2.1h-2.1zM223.4 218.5h2.1v2.1h-2.1zM223.6 218.7h2.1v2.1h-2.1zM223.7 218.9h2.1v2.1h-2.1zM223.9 218.5h2.1v2.1h-2.1zM224.0 218.9h2.1v2.1h-2.1zM224.2 219.4h2.1v2.1h-2.1zM224.3 218.4h2.1v2.1h-2.1zM224.5 219.2h2.1v2.1h-2.1zM224.6 219.7h2.1v2.1h-2.1zM224.8 220.9h2.1v2.1h-2.1zM224.9 219.7h2.1v2.1h-2.1zM225.1 219.8h2.1v2.1h-2.1zM225.2 220.4h2.1v2.1h-2.1zM225.4 219.7h2.1v2.1h-2.1zM225.5 223.7h2.1v2.1h-2.1zM225.7 220.7h2.1v2.1h-2.1zM225.8 220.5h2.1v2.1h-2.1zM226.0 223.4h2.1v2.1h-2.1zM226.1 220.1h2.1v2.1h-2.1zM226.3 222.2h2.1v2.1h-2.1zM226.4 220.2h2.1v2.1h-2.1zM226.6 222.4h2.1v2.1h-2.1zM226.7 223.8h2.1v2.1h-2.1zM226.9 222.3h2.1v2.1h-2.1zM227.0 221.4h2.1v2.1h-2.1zM227.2 223.5h2.1v2.1h-2.1zM227.3 222.9h2.1v2.1h-2.1zM227.5 222.9h2.1v2.1h-2.1zM227.6 223.0h2.1v2.1h-2.1zM227.8 227.0h2.1v2.1h-2.1zM227.9 224.4h2.1v2.1h-2.1zM228.1 227.3h2.1v2.1h-2.1zM228.2 225.3h2.1v2.1h-2.1zM228.4 229.0h2.1v2.1h-2.1zM228.5 223.7h2.1v2.1h-2.1zM228.7 226.2h2.1v2.1h-2.1zM228.8 223.4h2.1v2.1h-2.1zM229.0 225.9h2.1v2.1h-2.1zM229.1 225.2h2.1v2.1h-2.1zM229.3 224.3h2.1v2.1h-2.1zM229.4 225.9h2.1v2.1h-2.1zM229.6 227.3h2.1v2.1h-2.1zM229.7 225.6h2.1v2.1h-2.1zM229.9 227.0h2.1v2.1h-2.1zM230.0 226.9h2.1v2.1h-2.1zM230.2 227.6h2.1v2.1h-2.1zM230.3 229.0h2.1v2.1h-2.1zM230.5 228.0h2.1v2.1h-2.1zM230.6 225.4h2.1v2.1h-2.1zM230.8 229.7h2.1v2.1h-2.1zM230.9 228.8h2.1v2.1h-2.1zM231.1 226.5h2.1v2.1h-2.1zM231.2 227.3h2.1v2.1h-2.1zM231.4 226.7h2.1v2.1h-2.1zM231.5 226.5h2.1v2.1h-2.1zM231.7 230.7h2.1v2.1h-2.1zM231.8 230.7h2.1v2.1h-2.1zM232.0 228.5h2.1v2.1h-2.1zM232.1 229.4h2.1v2.1h-2.1zM232.3 230.3h2.1v2.1h-2.1zM232.4 228.1h2.1v2.1h-2.1zM232.6 231.2h2.1v2.1h-2.1zM232.7 231.2h2.1v2.1h-2.1zM232.9 228.1h2.1v2.1h-2.1zM233.0 226.7h2.1v2.1h-2.1zM233.2 227.1h2.1v2.1h-2.1zM233.3 230.9h2.1v2.1h-2.1zM233.5 230.6h2.1v2.1h-2.1zM233.6 228.3h2.1v2.1h-2.1zM233.8 231.9h2.1v2.1h-2.1zM233.9 233.8h2.1v2.1h-2.1zM234.1 231.6h2.1v2.1h-2.1zM234.2 231.2h2.1v2.1h-2.1zM234.4 234.2h2.1v2.1h-2.1zM234.5 236.6h2.1v2.1h-2.1zM234.7 236.6h2.1v2.1h-2.1zM234.8 231.2h2.1v2.1h-2.1zM235.0 234.7h2.1v2.1h-2.1zM235.1 233.4h2.1v2.1h-2.1zM235.3 233.0h2.1v2.1h-2.1zM235.4 232.3h2.1v2.1h-2.1zM235.6 234.7h2.1v2.1h-2.1zM235.7 232.6h2.1v2.1h-2.1zM235.9 236.6h2.1v2.1h-2.1zM236.0 235.1h2.1v2.1h-2.1zM236.2 237.2h2.1v2.1h-2.1zM236.3 232.3h2.1v2.1h-2.1zM236.5 235.1h2.1v2.1h-2.1zM236.6 237.2h2.1v2.1h-2.1zM236.8 236.1h2.1v2.1h-2.1zM236.9 236.1h2.1v2.1h-2.1zM237.1 233.8h2.1v2.1h-2.1zM237.2 241.2h2.1v2.1h-2.1zM237.4 239.0h2.1v2.1h-2.1zM237.5 237.2h2.1v2.1h-2.1zM237.7 231.2h2.1v2.1h-2.1zM237.8 234.2h2.1v2.1h-2.1zM238.0 237.2h2.1v2.1h-2.1zM238.1 235.1h2.1v2.1h-2.1zM238.3 232.6h2.1v2.1h-2.1zM238.4 238.4h2.1v2.1h-2.1zM238.6 239.0h2.1v2.1h-2.1zM238.7 234.7h2.1v2.1h-2.1zM238.9 236.6h2.1v2.1h-2.1zM239.0 236.6h2.1v2.1h-2.1zM239.2 239.7h2.1v2.1h-2.1zM239.3 234.2h2.1v2.1h-2.1zM239.5 234.7h2.1v2.1h-2.1zM239.6 237.8h2.1v2.1h-2.1zM239.8 237.2h2.1v2.1h-2.1zM239.9 247.5h2.1v2.1h-2.1zM240.1 237.8h2.1v2.1h-2.1zM240.2 240.4h2.1v2.1h-2.1zM240.4 239.0h2.1v2.1h-2.1zM240.5 238.4h2.1v2.1h-2.1zM240.7 241.2h2.1v2.1h-2.1zM240.8 247.5h2.1v2.1h-2.1zM241.0 239.7h2.1v2.1h-2.1zM241.1 242.9h2.1v2.1h-2.1zM241.3 242.0h2.1v2.1h-2.1zM241.4 242.9h2.1v2.1h-2.1zM241.6 242.0h2.1v2.1h-2.1zM241.9 238.4h2.1v2.1h-2.1zM242.0 241.2h2.1v2.1h-2.1zM242.2 239.0h2.1v2.1h-2.1zM242.3 237.2h2.1v2.1h-2.1zM242.5 242.0h2.1v2.1h-2.1zM242.6 250.7h2.1v2.1h-2.1zM242.8 246.1h2.1v2.1h-2.1zM242.9 247.5h2.1v2.1h-2.1zM243.1 244.9h2.1v2.1h-2.1zM243.2 242.9h2.1v2.1h-2.1zM243.5 242.0h2.1v2.1h-2.1zM243.7 250.7h2.1v2.1h-2.1zM243.8 242.9h2.1v2.1h-2.1zM244.0 243.9h2.1v2.1h-2.1zM244.1 244.9h2.1v2.1h-2.1zM244.3 243.9h2.1v2.1h-2.1zM244.4 246.1h2.1v2.1h-2.1zM244.6 247.5h2.1v2.1h-2.1zM244.9 244.9h2.1v2.1h-2.1zM245.0 239.7h2.1v2.1h-2.1zM245.2 239.7h2.1v2.1h-2.1zM245.3 241.2h2.1v2.1h-2.1zM245.5 242.9h2.1v2.1h-2.1zM245.6 248.9h2.1v2.1h-2.1zM245.8 241.2h2.1v2.1h-2.1zM245.9 246.1h2.1v2.1h-2.1zM246.1 246.1h2.1v2.1h-2.1zM246.2 247.5h2.1v2.1h-2.1zM246.4 246.1h2.1v2.1h-2.1zM246.5 248.9h2.1v2.1h-2.1zM246.7 247.5h2.1v2.1h-2.1zM247.0 248.9h2.1v2.1h-2.1zM247.1 240.4h2.1v2.1h-2.1zM247.3 247.5h2.1v2.1h-2.1zM247.4 248.9h2.1v2.1h-2.1zM247.6 246.1h2.1v2.1h-2.1zM247.7 244.9h2.1v2.1h-2.1zM248.0 248.9h2.1v2.1h-2.1zM248.2 244.9h2.1v2.1h-2.1zM248.3 247.5h2.1v2.1h-2.1zM248.5 248.9h2.1v2.1h-2.1zM248.6 243.9h2.1v2.1h-2.1zM249.1 242.9h2.1v2.1h-2.1zM249.2 244.9h2.1v2.1h-2.1zM249.5 250.7h2.1v2.1h-2.1zM249.7 250.7h2.1v2.1h-2.1zM250.1 250.7h2.1v2.1h-2.1zM250.3 248.9h2.1v2.1h-2.1zM251.0 250.7h2.1v2.1h-2.1zM251.5 250.7h2.1v2.1h-2.1zM251.6 250.7h2.1v2.1h-2.1zM252.1 248.9h2.1v2.1h-2.1zM252.2 248.9h2.1v2.1h-2.1zM252.8 248.9h2.1v2.1h-2.1zM253.6 248.9h2.1v2.1h-2.1zM254.2 248.9h2.1v2.1h-2.1zM254.3 250.7h2.1v2.1h-2.1zM255.2 250.7h2.1v2.1h-2.1zM256.4 250.7h2.1v2.1h-2.1zM256.9 250.7h2.1v2.1h-2.1zM262.4 248.9h2.1v2.1h-2.1zM295.7 250.7h2.1v2.1h-2.1zM256.9 270.8h32.7v2.1h-32.7zM288.9 270.8h11.5v2.1h-11.5zM300.2 270.8h12.3v2.1h-12.3zM311.2 270.8h14.3v2.1h-14.3zM324.6 270.8h2.1v2.1h-2.1zM251.3 263.0h13.3v2.1h-13.3zM263.9 263.0h24.4v2.1h-24.4zM287.2 263.0h11.8v2.1h-11.8zM300.6 263.0h4.4v2.1h-4.4zM304.9 263.0h8.1v2.1h-8.1zM316.1 263.0h5.3v2.1h-5.3zM321.9 263.0h3.7v2.1h-3.7zM244.9 258.4h4.3v2.1h-4.3zM250.4 258.4h4.4v2.1h-4.4zM255.6 258.4h6.3v2.1h-6.3zM262.1 258.4h8.6v2.1h-8.6zM272.6 258.4h2.1v2.1h-2.1zM275.9 258.4h2.1v2.1h-2.1zM278.8 258.4h2.1v2.1h-2.1zM282.1 258.4h2.1v2.1h-2.1zM286.2 258.4h2.1v2.1h-2.1zM293.8 258.4h5.3v2.1h-5.3zM304.9 258.4h2.1v2.1h-2.1zM247.1 255.2h21.7v2.1h-21.7zM277.3 255.2h2.1v2.1h-2.1zM246.2 252.7h12.8v2.1h-12.8zM261.1 252.7h2.1v2.1h-2.1zM263.2 252.7h2.1v2.1h-2.1zM265.3 252.7h2.1v2.1h-2.1z" fill="#66d866"/><rect x="255.9" y="168.6" width="1.8" height="1.8" fill="#5fd45f"/><text transform="translate(261.8,172.2) scale(0.9259,1)" font-size="7.88" text-anchor="start" fill="#000" stroke="#000" stroke-width="0.1" >Au<tspan font-size="4.5" dy="2" fill="#555" stroke="#555">22</tspan><tspan dy="-2">,τ=2.65 (μs)</tspan></text><rect x="363.5" y="5.5" width="142.5" height="115" fill="none" stroke="#8a8a8a" stroke-width="1"/><path d="M363.8 121v2M389.4 121v2M415 121v2M440.6 121v2M466.2 121v2M491.8 121v2M376.6 121v1.2M402.2 121v1.2M427.8 121v1.2M453.4 121v1.2M479 121v1.2M504.6 121v1.2" stroke="#8a8a8a" stroke-width="1" fill="none"/><text transform="translate(364.4,131.1) scale(0.9259,1)" font-size="7.88" text-anchor="middle" fill="#000" stroke="#000" stroke-width="0.1" >600</text><text transform="translate(390,131.1) scale(0.9259,1)" font-size="7.88" text-anchor="middle" fill="#000" stroke="#000" stroke-width="0.1" >650</text><text transform="translate(415.6,131.1) scale(0.9259,1)" font-size="7.88" text-anchor="middle" fill="#000" stroke="#000" stroke-width="0.1" >700</text><text transform="translate(441.2,131.1) scale(0.9259,1)" font-size="7.88" text-anchor="middle" fill="#000" stroke="#000" stroke-width="0.1" >750</text><text transform="translate(466.8,131.1) scale(0.9259,1)" font-size="7.88" text-anchor="middle" fill="#000" stroke="#000" stroke-width="0.1" >800</text><text transform="translate(492.4,131.1) scale(0.9259,1)" font-size="7.88" text-anchor="middle" fill="#000" stroke="#000" stroke-width="0.1" >850</text><text x="434.5" y="142.9" font-size="9" text-anchor="middle" font-weight="normal" fill="#000" stroke="#000" stroke-width="0.1" >Wavelength (nm)</text><text transform="translate(356.2,58.4) rotate(-90)" font-size="9" text-anchor="middle" fill="#000" stroke="#000" stroke-width="0.1">Intensity</text><path d="M363.54 118.12 L364.14 118.1 L364.74 118.07 L365.33 118.04 L365.93 118 L366.52 117.96 L367.12 117.92 L367.71 117.87 L368.31 117.81 L368.9 117.75 L369.5 117.68 L370.1 117.6 L370.69 117.52 L371.29 117.42 L371.88 117.32 L372.48 117.2 L373.07 117.07 L373.67 116.93 L374.26 116.78 L374.86 116.61 L375.45 116.42 L376.05 116.21 L376.65 115.99 L377.24 115.74 L377.84 115.48 L378.43 115.18 L379.03 114.87 L379.62 114.52 L380.22 114.15 L380.81 113.75 L381.41 113.31 L382.01 112.84 L382.6 112.34 L383.2 111.8 L383.79 111.21 L384.39 110.59 L384.98 109.92 L385.58 109.21 L386.17 108.44 L386.77 107.63 L387.37 106.77 L387.96 105.86 L388.56 104.89 L389.15 103.87 L389.75 102.78 L390.34 101.65 L390.94 100.45 L391.53 99.19 L392.13 97.87 L392.73 96.49 L393.32 95.05 L393.92 93.54 L394.51 91.98 L395.11 90.35 L395.7 88.66 L396.3 86.92 L396.89 85.12 L397.49 83.26 L398.09 81.35 L398.68 79.38 L399.28 77.37 L399.87 75.32 L400.47 73.22 L401.06 71.08 L401.66 68.91 L402.25 66.71 L402.85 64.49 L403.45 62.24 L404.04 59.98 L404.64 57.72 L405.23 55.45 L405.83 53.18 L406.42 50.93 L407.02 48.69 L407.61 46.48 L408.21 44.3 L408.81 42.15 L409.4 40.05 L410 38 L410.59 36.01 L411.19 34.08 L411.78 32.23 L412.38 30.46 L412.97 28.77 L413.57 27.17 L414.17 25.68 L414.76 24.28 L415.36 23 L415.95 21.82 L416.55 20.77 L417.14 19.84 L417.74 19.04 L418.33 18.36 L418.93 17.82 L419.53 17.42 L420.12 17.15 L420.72 17.01 L421.31 17.01 L421.91 17.09 L422.5 17.23 L423.1 17.45 L423.69 17.74 L424.29 18.1 L424.89 18.53 L425.48 19.03 L426.08 19.59 L426.67 20.23 L427.27 20.92 L427.86 21.68 L428.46 22.51 L429.05 23.39 L429.65 24.34 L430.25 25.34 L430.84 26.39 L431.44 27.5 L432.03 28.66 L432.63 29.86 L433.22 31.12 L433.82 32.41 L434.41 33.75 L435.01 35.13 L435.61 36.54 L436.2 37.98 L436.8 39.46 L437.39 40.96 L437.99 42.49 L438.58 44.05 L439.18 45.62 L439.77 47.21 L440.37 48.82 L440.97 50.44 L441.56 52.07 L442.16 53.7 L442.75 55.35 L443.35 56.99 L443.94 58.64 L444.54 60.28 L445.13 61.92 L445.73 63.55 L446.33 65.17 L446.92 66.78 L447.52 68.38 L448.11 69.97 L448.71 71.54 L449.3 73.09 L449.9 74.63 L450.49 76.14 L451.09 77.63 L451.69 79.1 L452.28 80.54 L452.88 81.95 L453.47 83.34 L454.07 84.71 L454.66 86.04 L455.26 87.34 L455.85 88.62 L456.45 89.86 L457.05 91.08 L457.64 92.26 L458.24 93.41 L458.83 94.52 L459.43 95.61 L460.02 96.66 L460.62 97.69 L461.21 98.68 L461.81 99.63 L462.4 100.56 L463 101.45 L463.6 102.32 L464.19 103.15 L464.79 103.95 L465.38 104.72 L465.98 105.46 L466.57 106.18 L467.17 106.86 L467.76 107.52 L468.36 108.15 L468.96 108.75 L469.55 109.32 L470.15 109.88 L470.74 110.4 L471.34 110.9 L471.93 111.38 L472.53 111.84 L473.12 112.27 L473.72 112.68 L474.32 113.07 L474.91 113.45 L475.51 113.8 L476.1 114.13 L476.7 114.45 L477.29 114.75 L477.89 115.03 L478.48 115.3 L479.08 115.55 L479.68 115.79 L480.27 116.01 L480.87 116.23 L481.46 116.42 L482.06 116.61 L482.65 116.79 L483.25 116.95 L483.84 117.11 L484.44 117.25 L485.04 117.39 L485.63 117.51 L486.23 117.63 L486.82 117.74 L487.42 117.85 L488.01 117.94 L488.61 118.03 L489.2 118.12 L489.8 118.2 L490.4 118.27 L490.99 118.3 L491.59 118.3 L492.18 118.3 L492.78 118.3 L493.37 118.3 L493.97 118.3 L494.56 118.3 L495.16 118.3 L495.76 118.3 L496.35 118.3 L496.95 118.3 L497.54 118.3 L498.14 118.3 L498.73 118.3 L499.33 118.3 L499.92 118.3 L500.52 118.3 L501.12 118.3 L501.71 118.3 L502.31 118.3 L502.9 118.3 L503.5 118.3 L504.09 118.3 L504.69 118.3 L505.28 118.3 L505.88 118.3" stroke="#6dd36d" stroke-width="1.3" fill="none" stroke-linejoin="round" /><path d="M363.54 118.11 L364.14 118.09 L364.74 118.06 L365.33 118.03 L365.93 117.99 L366.52 117.95 L367.12 117.91 L367.71 117.86 L368.31 117.8 L368.9 117.74 L369.5 117.67 L370.1 117.6 L370.69 117.51 L371.29 117.42 L371.88 117.32 L372.48 117.21 L373.07 117.08 L373.67 116.95 L374.26 116.8 L374.86 116.64 L375.45 116.46 L376.05 116.27 L376.65 116.05 L377.24 115.82 L377.84 115.57 L378.43 115.3 L379.03 115.01 L379.62 114.69 L380.22 114.34 L380.81 113.97 L381.41 113.57 L382.01 113.14 L382.6 112.68 L383.2 112.18 L383.79 111.65 L384.39 111.08 L384.98 110.48 L385.58 109.83 L386.17 109.15 L386.77 108.42 L387.37 107.65 L387.96 106.83 L388.56 105.97 L389.15 105.06 L389.75 104.1 L390.34 103.09 L390.94 102.03 L391.53 100.92 L392.13 99.75 L392.73 98.54 L393.32 97.28 L393.92 95.96 L394.51 94.59 L395.11 93.18 L395.7 91.71 L396.3 90.19 L396.89 88.63 L397.49 87.02 L398.09 85.37 L398.68 83.67 L399.28 81.94 L399.87 80.17 L400.47 78.37 L401.06 76.54 L401.66 74.68 L402.25 72.8 L402.85 70.9 L403.45 68.98 L404.04 67.06 L404.64 65.13 L405.23 63.2 L405.83 61.28 L406.42 59.37 L407.02 57.47 L407.61 55.6 L408.21 53.75 L408.81 51.94 L409.4 50.17 L410 48.44 L410.59 46.76 L411.19 45.14 L411.78 43.58 L412.38 42.09 L412.97 40.67 L413.57 39.33 L414.17 38.07 L414.76 36.9 L415.36 35.82 L415.95 34.84 L416.55 33.96 L417.14 33.18 L417.74 32.51 L418.33 31.94 L418.93 31.49 L419.53 31.15 L420.12 30.92 L420.72 30.81 L421.31 30.81 L421.91 30.87 L422.5 31 L423.1 31.19 L423.69 31.44 L424.29 31.75 L424.89 32.12 L425.48 32.55 L426.08 33.04 L426.67 33.59 L427.27 34.19 L427.86 34.85 L428.46 35.56 L429.05 36.32 L429.65 37.14 L430.25 38 L430.84 38.91 L431.44 39.87 L432.03 40.87 L432.63 41.91 L433.22 42.99 L433.82 44.11 L434.41 45.27 L435.01 46.46 L435.61 47.68 L436.2 48.92 L436.8 50.2 L437.39 51.5 L437.99 52.82 L438.58 54.16 L439.18 55.52 L439.77 56.9 L440.37 58.28 L440.97 59.68 L441.56 61.09 L442.16 62.5 L442.75 63.92 L443.35 65.34 L443.94 66.76 L444.54 68.18 L445.13 69.6 L445.73 71.01 L446.33 72.41 L446.92 73.8 L447.52 75.18 L448.11 76.55 L448.71 77.91 L449.3 79.25 L449.9 80.58 L450.49 81.88 L451.09 83.17 L451.69 84.44 L452.28 85.68 L452.88 86.91 L453.47 88.11 L454.07 89.28 L454.66 90.43 L455.26 91.56 L455.85 92.66 L456.45 93.74 L457.05 94.78 L457.64 95.8 L458.24 96.8 L458.83 97.76 L459.43 98.7 L460.02 99.61 L460.62 100.49 L461.21 101.35 L461.81 102.18 L462.4 102.98 L463 103.75 L463.6 104.49 L464.19 105.21 L464.79 105.91 L465.38 106.57 L465.98 107.21 L466.57 107.83 L467.17 108.42 L467.76 108.99 L468.36 109.53 L468.96 110.05 L469.55 110.55 L470.15 111.02 L470.74 111.48 L471.34 111.91 L471.93 112.32 L472.53 112.72 L473.12 113.09 L473.72 113.45 L474.32 113.79 L474.91 114.11 L475.51 114.41 L476.1 114.7 L476.7 114.97 L477.29 115.23 L477.89 115.48 L478.48 115.71 L479.08 115.93 L479.68 116.13 L480.27 116.33 L480.87 116.51 L481.46 116.68 L482.06 116.84 L482.65 116.99 L483.25 117.14 L483.84 117.27 L484.44 117.39 L485.04 117.51 L485.63 117.62 L486.23 117.72 L486.82 117.82 L487.42 117.91 L488.01 117.99 L488.61 118.07 L489.2 118.14 L489.8 118.21 L490.4 118.27 L490.99 118.3 L491.59 118.3 L492.18 118.3 L492.78 118.3 L493.37 118.3 L493.97 118.3 L494.56 118.3 L495.16 118.3 L495.76 118.3 L496.35 118.3 L496.95 118.3 L497.54 118.3 L498.14 118.3 L498.73 118.3 L499.33 118.3 L499.92 118.3 L500.52 118.3 L501.12 118.3 L501.71 118.3 L502.31 118.3 L502.9 118.3 L503.5 118.3 L504.09 118.3 L504.69 118.3 L505.28 118.3 L505.88 118.3" stroke="#88da88" stroke-width="1.3" fill="none" stroke-linejoin="round" /><path d="M363.54 117.98 L364.14 117.94 L364.74 117.9 L365.33 117.85 L365.93 117.8 L366.52 117.74 L367.12 117.68 L367.71 117.61 L368.31 117.54 L368.9 117.45 L369.5 117.36 L370.1 117.26 L370.69 117.15 L371.29 117.04 L371.88 116.91 L372.48 116.77 L373.07 116.61 L373.67 116.45 L374.26 116.27 L374.86 116.08 L375.45 115.87 L376.05 115.64 L376.65 115.4 L377.24 115.13 L377.84 114.85 L378.43 114.55 L379.03 114.22 L379.62 113.87 L380.22 113.5 L380.81 113.11 L381.41 112.68 L382.01 112.23 L382.6 111.75 L383.2 111.24 L383.79 110.7 L384.39 110.13 L384.98 109.53 L385.58 108.89 L386.17 108.22 L386.77 107.51 L387.37 106.77 L387.96 105.98 L388.56 105.17 L389.15 104.31 L389.75 103.42 L390.34 102.48 L390.94 101.51 L391.53 100.5 L392.13 99.45 L392.73 98.36 L393.32 97.23 L393.92 96.07 L394.51 94.87 L395.11 93.63 L395.7 92.36 L396.3 91.05 L396.89 89.72 L397.49 88.35 L398.09 86.95 L398.68 85.53 L399.28 84.08 L399.87 82.61 L400.47 81.12 L401.06 79.61 L401.66 78.09 L402.25 76.55 L402.85 75.01 L403.45 73.47 L404.04 71.92 L404.64 70.38 L405.23 68.84 L405.83 67.32 L406.42 65.81 L407.02 64.31 L407.61 62.84 L408.21 61.4 L408.81 59.99 L409.4 58.61 L410 57.27 L410.59 55.97 L411.19 54.72 L411.78 53.52 L412.38 52.38 L412.97 51.29 L413.57 50.27 L414.17 49.31 L414.76 48.42 L415.36 47.6 L415.95 46.86 L416.55 46.19 L417.14 45.6 L417.74 45.09 L418.33 44.66 L418.93 44.32 L419.53 44.06 L420.12 43.89 L420.72 43.81 L421.31 43.81 L421.91 43.86 L422.5 43.97 L423.1 44.13 L423.69 44.34 L424.29 44.6 L424.89 44.91 L425.48 45.28 L426.08 45.69 L426.67 46.15 L427.27 46.66 L427.86 47.21 L428.46 47.82 L429.05 48.46 L429.65 49.15 L430.25 49.88 L430.84 50.65 L431.44 51.45 L432.03 52.3 L432.63 53.18 L433.22 54.09 L433.82 55.04 L434.41 56.02 L435.01 57.02 L435.61 58.05 L436.2 59.11 L436.8 60.19 L437.39 61.28 L437.99 62.4 L438.58 63.54 L439.18 64.69 L439.77 65.85 L440.37 67.03 L440.97 68.21 L441.56 69.4 L442.16 70.6 L442.75 71.8 L443.35 73 L443.94 74.21 L444.54 75.41 L445.13 76.61 L445.73 77.81 L446.33 79 L446.92 80.18 L447.52 81.35 L448.11 82.52 L448.71 83.67 L449.3 84.81 L449.9 85.93 L450.49 87.04 L451.09 88.14 L451.69 89.22 L452.28 90.28 L452.88 91.32 L453.47 92.34 L454.07 93.34 L454.66 94.32 L455.26 95.29 L455.85 96.22 L456.45 97.14 L457.05 98.03 L457.64 98.91 L458.24 99.75 L458.83 100.58 L459.43 101.38 L460.02 102.16 L460.62 102.92 L461.21 103.65 L461.81 104.36 L462.4 105.04 L463 105.7 L463.6 106.34 L464.19 106.96 L464.79 107.55 L465.38 108.12 L465.98 108.68 L466.57 109.2 L467.17 109.71 L467.76 110.2 L468.36 110.67 L468.96 111.12 L469.55 111.54 L470.15 111.95 L470.74 112.35 L471.34 112.72 L471.93 113.08 L472.53 113.42 L473.12 113.74 L473.72 114.05 L474.32 114.34 L474.91 114.62 L475.51 114.88 L476.1 115.13 L476.7 115.37 L477.29 115.59 L477.89 115.81 L478.48 116.01 L479.08 116.2 L479.68 116.38 L480.27 116.55 L480.87 116.7 L481.46 116.85 L482.06 117 L482.65 117.13 L483.25 117.25 L483.84 117.37 L484.44 117.48 L485.04 117.58 L485.63 117.68 L486.23 117.77 L486.82 117.85 L487.42 117.93 L488.01 118 L488.61 118.07 L489.2 118.13 L489.8 118.19 L490.4 118.25 L490.99 118.3 L491.59 118.3 L492.18 118.3 L492.78 118.3 L493.37 118.3 L493.97 118.3 L494.56 118.3 L495.16 118.3 L495.76 118.3 L496.35 118.3 L496.95 118.3 L497.54 118.3 L498.14 118.3 L498.73 118.3 L499.33 118.3 L499.92 118.3 L500.52 118.3 L501.12 118.3 L501.71 118.3 L502.31 118.3 L502.9 118.3 L503.5 118.3 L504.09 118.3 L504.69 118.3 L505.28 118.3 L505.88 118.3" stroke="#b9e8b4" stroke-width="1.3" fill="none" stroke-linejoin="round" /><path d="M363.54 117.69 L364.14 117.63 L364.74 117.56 L365.33 117.49 L365.93 117.41 L366.52 117.33 L367.12 117.23 L367.71 117.13 L368.31 117.03 L368.9 116.91 L369.5 116.79 L370.1 116.65 L370.69 116.51 L371.29 116.35 L371.88 116.19 L372.48 116.01 L373.07 115.82 L373.67 115.62 L374.26 115.4 L374.86 115.16 L375.45 114.92 L376.05 114.65 L376.65 114.37 L377.24 114.08 L377.84 113.76 L378.43 113.42 L379.03 113.07 L379.62 112.7 L380.22 112.3 L380.81 111.88 L381.41 111.45 L382.01 110.98 L382.6 110.5 L383.2 109.99 L383.79 109.46 L384.39 108.9 L384.98 108.31 L385.58 107.7 L386.17 107.07 L386.77 106.41 L387.37 105.72 L387.96 105 L388.56 104.26 L389.15 103.49 L389.75 102.69 L390.34 101.87 L390.94 101.02 L391.53 100.15 L392.13 99.25 L392.73 98.32 L393.32 97.37 L393.92 96.4 L394.51 95.41 L395.11 94.39 L395.7 93.35 L396.3 92.3 L396.89 91.22 L397.49 90.13 L398.09 89.03 L398.68 87.91 L399.28 86.78 L399.87 85.64 L400.47 84.49 L401.06 83.33 L401.66 82.18 L402.25 81.02 L402.85 79.86 L403.45 78.7 L404.04 77.55 L404.64 76.41 L405.23 75.28 L405.83 74.16 L406.42 73.06 L407.02 71.98 L407.61 70.91 L408.21 69.87 L408.81 68.86 L409.4 67.88 L410 66.92 L410.59 66 L411.19 65.12 L411.78 64.27 L412.38 63.47 L412.97 62.71 L413.57 61.99 L414.17 61.32 L414.76 60.7 L415.36 60.13 L415.95 59.61 L416.55 59.15 L417.14 58.74 L417.74 58.39 L418.33 58.09 L418.93 57.86 L419.53 57.68 L420.12 57.56 L420.72 57.51 L421.31 57.51 L421.91 57.55 L422.5 57.63 L423.1 57.76 L423.69 57.92 L424.29 58.13 L424.89 58.37 L425.48 58.65 L426.08 58.98 L426.67 59.34 L427.27 59.73 L427.86 60.17 L428.46 60.64 L429.05 61.14 L429.65 61.68 L430.25 62.25 L430.84 62.85 L431.44 63.49 L432.03 64.15 L432.63 64.84 L433.22 65.56 L433.82 66.3 L434.41 67.07 L435.01 67.86 L435.61 68.67 L436.2 69.5 L436.8 70.35 L437.39 71.22 L437.99 72.1 L438.58 73 L439.18 73.91 L439.77 74.83 L440.37 75.76 L440.97 76.7 L441.56 77.65 L442.16 78.6 L442.75 79.56 L443.35 80.51 L443.94 81.47 L444.54 82.44 L445.13 83.4 L445.73 84.35 L446.33 85.31 L446.92 86.26 L447.52 87.2 L448.11 88.14 L448.71 89.06 L449.3 89.98 L449.9 90.89 L450.49 91.79 L451.09 92.68 L451.69 93.56 L452.28 94.42 L452.88 95.27 L453.47 96.1 L454.07 96.92 L454.66 97.72 L455.26 98.51 L455.85 99.28 L456.45 100.04 L457.05 100.78 L457.64 101.5 L458.24 102.2 L458.83 102.88 L459.43 103.55 L460.02 104.2 L460.62 104.83 L461.21 105.44 L461.81 106.03 L462.4 106.61 L463 107.16 L463.6 107.7 L464.19 108.22 L464.79 108.73 L465.38 109.21 L465.98 109.68 L466.57 110.13 L467.17 110.57 L467.76 110.98 L468.36 111.39 L468.96 111.77 L469.55 112.14 L470.15 112.5 L470.74 112.84 L471.34 113.16 L471.93 113.47 L472.53 113.77 L473.12 114.05 L473.72 114.32 L474.32 114.58 L474.91 114.83 L475.51 115.06 L476.1 115.28 L476.7 115.49 L477.29 115.7 L477.89 115.89 L478.48 116.07 L479.08 116.24 L479.68 116.4 L480.27 116.55 L480.87 116.7 L481.46 116.83 L482.06 116.96 L482.65 117.08 L483.25 117.2 L483.84 117.31 L484.44 117.41 L485.04 117.5 L485.63 117.59 L486.23 117.68 L486.82 117.76 L487.42 117.83 L488.01 117.9 L488.61 117.96 L489.2 118.02 L489.8 118.08 L490.4 118.13 L490.99 118.18 L491.59 118.23 L492.18 118.27 L492.78 118.3 L493.37 118.3 L493.97 118.3 L494.56 118.3 L495.16 118.3 L495.76 118.3 L496.35 118.3 L496.95 118.3 L497.54 118.3 L498.14 118.3 L498.73 118.3 L499.33 118.3 L499.92 118.3 L500.52 118.3 L501.12 118.3 L501.71 118.3 L502.31 118.3 L502.9 118.3 L503.5 118.3 L504.09 118.3 L504.69 118.3 L505.28 118.3 L505.88 118.3" stroke="#fccdb2" stroke-width="1.3" fill="none" stroke-linejoin="round" /><path d="M363.54 117.41 L364.14 117.33 L364.74 117.26 L365.33 117.18 L365.93 117.09 L366.52 117 L367.12 116.9 L367.71 116.79 L368.31 116.68 L368.9 116.56 L369.5 116.43 L370.1 116.3 L370.69 116.16 L371.29 116.01 L371.88 115.85 L372.48 115.68 L373.07 115.51 L373.67 115.32 L374.26 115.13 L374.86 114.92 L375.45 114.7 L376.05 114.48 L376.65 114.24 L377.24 113.99 L377.84 113.73 L378.43 113.46 L379.03 113.17 L379.62 112.88 L380.22 112.57 L380.81 112.24 L381.41 111.91 L382.01 111.56 L382.6 111.2 L383.2 110.82 L383.79 110.44 L384.39 110.03 L384.98 109.62 L385.58 109.19 L386.17 108.75 L386.77 108.29 L387.37 107.82 L387.96 107.34 L388.56 106.84 L389.15 106.33 L389.75 105.81 L390.34 105.28 L390.94 104.73 L391.53 104.18 L392.13 103.61 L392.73 103.03 L393.32 102.44 L393.92 101.84 L394.51 101.24 L395.11 100.62 L395.7 100 L396.3 99.37 L396.89 98.74 L397.49 98.1 L398.09 97.46 L398.68 96.81 L399.28 96.16 L399.87 95.51 L400.47 94.86 L401.06 94.21 L401.66 93.56 L402.25 92.92 L402.85 92.28 L403.45 91.64 L404.04 91.01 L404.64 90.39 L405.23 89.78 L405.83 89.18 L406.42 88.59 L407.02 88.01 L407.61 87.44 L408.21 86.89 L408.81 86.36 L409.4 85.84 L410 85.34 L410.59 84.86 L411.19 84.4 L411.78 83.97 L412.38 83.55 L412.97 83.16 L413.57 82.79 L414.17 82.45 L414.76 82.13 L415.36 81.84 L415.95 81.57 L416.55 81.34 L417.14 81.13 L417.74 80.95 L418.33 80.8 L418.93 80.68 L419.53 80.59 L420.12 80.53 L420.72 80.5 L421.31 80.5 L421.91 80.53 L422.5 80.58 L423.1 80.65 L423.69 80.75 L424.29 80.87 L424.89 81.02 L425.48 81.19 L426.08 81.38 L426.67 81.59 L427.27 81.83 L427.86 82.09 L428.46 82.37 L429.05 82.67 L429.65 82.99 L430.25 83.33 L430.84 83.69 L431.44 84.07 L432.03 84.47 L432.63 84.88 L433.22 85.31 L433.82 85.75 L434.41 86.21 L435.01 86.69 L435.61 87.17 L436.2 87.67 L436.8 88.18 L437.39 88.7 L437.99 89.24 L438.58 89.78 L439.18 90.32 L439.77 90.88 L440.37 91.44 L440.97 92.01 L441.56 92.58 L442.16 93.16 L442.75 93.74 L443.35 94.32 L443.94 94.91 L444.54 95.49 L445.13 96.07 L445.73 96.66 L446.33 97.24 L446.92 97.82 L447.52 98.4 L448.11 98.97 L448.71 99.54 L449.3 100.1 L449.9 100.66 L450.49 101.22 L451.09 101.77 L451.69 102.31 L452.28 102.84 L452.88 103.37 L453.47 103.88 L454.07 104.39 L454.66 104.89 L455.26 105.38 L455.85 105.87 L456.45 106.34 L457.05 106.8 L457.64 107.25 L458.24 107.69 L458.83 108.12 L459.43 108.54 L460.02 108.95 L460.62 109.35 L461.21 109.74 L461.81 110.12 L462.4 110.49 L463 110.84 L463.6 111.19 L464.19 111.52 L464.79 111.84 L465.38 112.16 L465.98 112.46 L466.57 112.75 L467.17 113.03 L467.76 113.3 L468.36 113.56 L468.96 113.81 L469.55 114.06 L470.15 114.29 L470.74 114.51 L471.34 114.73 L471.93 114.93 L472.53 115.13 L473.12 115.32 L473.72 115.5 L474.32 115.67 L474.91 115.83 L475.51 115.99 L476.1 116.14 L476.7 116.28 L477.29 116.42 L477.89 116.55 L478.48 116.67 L479.08 116.79 L479.68 116.9 L480.27 117 L480.87 117.1 L481.46 117.19 L482.06 117.28 L482.65 117.37 L483.25 117.45 L483.84 117.52 L484.44 117.59 L485.04 117.66 L485.63 117.72 L486.23 117.78 L486.82 117.84 L487.42 117.89 L488.01 117.94 L488.61 117.99 L489.2 118.03 L489.8 118.07 L490.4 118.11 L490.99 118.14 L491.59 118.18 L492.18 118.21 L492.78 118.24 L493.37 118.27 L493.97 118.29 L494.56 118.3 L495.16 118.3 L495.76 118.3 L496.35 118.3 L496.95 118.3 L497.54 118.3 L498.14 118.3 L498.73 118.3 L499.33 118.3 L499.92 118.3 L500.52 118.3 L501.12 118.3 L501.71 118.3 L502.31 118.3 L502.9 118.3 L503.5 118.3 L504.09 118.3 L504.69 118.3 L505.28 118.3 L505.88 118.3" stroke="#f8a271" stroke-width="1.5" fill="none" stroke-linejoin="round" /><path d="M363.54 117.57 L364.14 117.51 L364.74 117.45 L365.33 117.38 L365.93 117.31 L366.52 117.23 L367.12 117.15 L367.71 117.06 L368.31 116.97 L368.9 116.87 L369.5 116.77 L370.1 116.66 L370.69 116.54 L371.29 116.42 L371.88 116.29 L372.48 116.15 L373.07 116.01 L373.67 115.86 L374.26 115.7 L374.86 115.53 L375.45 115.35 L376.05 115.17 L376.65 114.97 L377.24 114.77 L377.84 114.55 L378.43 114.33 L379.03 114.1 L379.62 113.85 L380.22 113.6 L380.81 113.33 L381.41 113.06 L382.01 112.77 L382.6 112.48 L383.2 112.17 L383.79 111.85 L384.39 111.52 L384.98 111.18 L385.58 110.83 L386.17 110.46 L386.77 110.09 L387.37 109.71 L387.96 109.31 L388.56 108.9 L389.15 108.49 L389.75 108.06 L390.34 107.62 L390.94 107.17 L391.53 106.72 L392.13 106.25 L392.73 105.78 L393.32 105.3 L393.92 104.8 L394.51 104.31 L395.11 103.8 L395.7 103.29 L396.3 102.78 L396.89 102.26 L397.49 101.73 L398.09 101.21 L398.68 100.68 L399.28 100.14 L399.87 99.61 L400.47 99.08 L401.06 98.54 L401.66 98.01 L402.25 97.48 L402.85 96.96 L403.45 96.44 L404.04 95.92 L404.64 95.41 L405.23 94.91 L405.83 94.42 L406.42 93.93 L407.02 93.46 L407.61 93 L408.21 92.54 L408.81 92.11 L409.4 91.68 L410 91.27 L410.59 90.88 L411.19 90.5 L411.78 90.14 L412.38 89.8 L412.97 89.48 L413.57 89.18 L414.17 88.9 L414.76 88.64 L415.36 88.4 L415.95 88.18 L416.55 87.99 L417.14 87.82 L417.74 87.67 L418.33 87.55 L418.93 87.45 L419.53 87.38 L420.12 87.33 L420.72 87.3 L421.31 87.3 L421.91 87.32 L422.5 87.36 L423.1 87.42 L423.69 87.51 L424.29 87.61 L424.89 87.72 L425.48 87.86 L426.08 88.02 L426.67 88.2 L427.27 88.39 L427.86 88.6 L428.46 88.83 L429.05 89.08 L429.65 89.34 L430.25 89.62 L430.84 89.92 L431.44 90.23 L432.03 90.55 L432.63 90.89 L433.22 91.24 L433.82 91.61 L434.41 91.99 L435.01 92.37 L435.61 92.77 L436.2 93.18 L436.8 93.6 L437.39 94.03 L437.99 94.46 L438.58 94.91 L439.18 95.36 L439.77 95.81 L440.37 96.27 L440.97 96.74 L441.56 97.21 L442.16 97.68 L442.75 98.16 L443.35 98.64 L443.94 99.11 L444.54 99.59 L445.13 100.07 L445.73 100.55 L446.33 101.03 L446.92 101.5 L447.52 101.98 L448.11 102.45 L448.71 102.91 L449.3 103.38 L449.9 103.84 L450.49 104.29 L451.09 104.74 L451.69 105.18 L452.28 105.62 L452.88 106.05 L453.47 106.48 L454.07 106.89 L454.66 107.3 L455.26 107.71 L455.85 108.1 L456.45 108.49 L457.05 108.87 L457.64 109.24 L458.24 109.6 L458.83 109.95 L459.43 110.3 L460.02 110.64 L460.62 110.96 L461.21 111.28 L461.81 111.59 L462.4 111.89 L463 112.18 L463.6 112.47 L464.19 112.74 L464.79 113 L465.38 113.26 L465.98 113.51 L466.57 113.75 L467.17 113.98 L467.76 114.2 L468.36 114.42 L468.96 114.62 L469.55 114.82 L470.15 115.01 L470.74 115.19 L471.34 115.37 L471.93 115.54 L472.53 115.7 L473.12 115.85 L473.72 116 L474.32 116.14 L474.91 116.28 L475.51 116.41 L476.1 116.53 L476.7 116.64 L477.29 116.76 L477.89 116.86 L478.48 116.96 L479.08 117.06 L479.68 117.15 L480.27 117.23 L480.87 117.32 L481.46 117.39 L482.06 117.47 L482.65 117.54 L483.25 117.6 L483.84 117.66 L484.44 117.72 L485.04 117.78 L485.63 117.83 L486.23 117.88 L486.82 117.92 L487.42 117.96 L488.01 118.01 L488.61 118.04 L489.2 118.08 L489.8 118.11 L490.4 118.14 L490.99 118.17 L491.59 118.2 L492.18 118.23 L492.78 118.25 L493.37 118.27 L493.97 118.29 L494.56 118.3 L495.16 118.3 L495.76 118.3 L496.35 118.3 L496.95 118.3 L497.54 118.3 L498.14 118.3 L498.73 118.3 L499.33 118.3 L499.92 118.3 L500.52 118.3 L501.12 118.3 L501.71 118.3 L502.31 118.3 L502.9 118.3 L503.5 118.3 L504.09 118.3 L504.69 118.3 L505.28 118.3 L505.88 118.3" stroke="#f48c4e" stroke-width="1.5" fill="none" stroke-linejoin="round" /><text transform="translate(369.3,19.1) scale(0.9259,1)" font-size="7.88" text-anchor="start" fill="#000" stroke="#000" stroke-width="0.1" >Au<tspan font-size="4.5" dy="2" fill="#555" stroke="#555">21</tspan><tspan dy="-2">-solution</tspan></text><rect x="469.2" y="15" width="13" height="7.1" fill="url(#g0)"/><text transform="translate(484.7,21.3) scale(0.9259,1)" font-size="7.88" text-anchor="start" fill="#000" stroke="#000" stroke-width="0.1" >200 K</text><rect x="469.2" y="22.1" width="13" height="7.1" fill="url(#g1)"/><text transform="translate(484.7,28.4) scale(0.9259,1)" font-size="7.88" text-anchor="start" fill="#000" stroke="#000" stroke-width="0.1" >220 K</text><rect x="469.2" y="29.2" width="13" height="7.1" fill="url(#g2)"/><text transform="translate(484.7,35.5) scale(0.9259,1)" font-size="7.88" text-anchor="start" fill="#000" stroke="#000" stroke-width="0.1" >240 K</text><rect x="469.2" y="36.3" width="13" height="7.1" fill="url(#g3)"/><text transform="translate(484.7,42.6) scale(0.9259,1)" font-size="7.88" text-anchor="start" fill="#000" stroke="#000" stroke-width="0.1" >260 K</text><rect x="469.2" y="43.4" width="13" height="7.1" fill="url(#g4)"/><text transform="translate(484.7,49.7) scale(0.9259,1)" font-size="7.88" text-anchor="start" fill="#000" stroke="#000" stroke-width="0.1" >280 K</text><rect x="469.2" y="50.5" width="13" height="7.1" fill="url(#g5)"/><text transform="translate(484.7,56.8) scale(0.9259,1)" font-size="7.88" text-anchor="start" fill="#000" stroke="#000" stroke-width="0.1" >300 K</text><rect x="363.5" y="159.5" width="142.5" height="115" fill="none" stroke="#8a8a8a" stroke-width="1"/><path d="M363.5 275v2M399.12 275v2M434.75 275v2M470.38 275v2M506 275v2M381.31 275v1.2M416.94 275v1.2M452.56 275v1.2M488.19 275v1.2" stroke="#8a8a8a" stroke-width="1" fill="none"/><text transform="translate(364.1,285.1) scale(0.9259,1)" font-size="7.88" text-anchor="middle" fill="#000" stroke="#000" stroke-width="0.1" >650</text><text transform="translate(399.73,285.1) scale(0.9259,1)" font-size="7.88" text-anchor="middle" fill="#000" stroke="#000" stroke-width="0.1" >700</text><text transform="translate(435.35,285.1) scale(0.9259,1)" font-size="7.88" text-anchor="middle" fill="#000" stroke="#000" stroke-width="0.1" >750</text><text transform="translate(470.98,285.1) scale(0.9259,1)" font-size="7.88" text-anchor="middle" fill="#000" stroke="#000" stroke-width="0.1" >800</text><text transform="translate(506.6,285.1) scale(0.9259,1)" font-size="7.88" text-anchor="middle" fill="#000" stroke="#000" stroke-width="0.1" >850</text><text x="434.5" y="296.9" font-size="9" text-anchor="middle" font-weight="normal" fill="#000" stroke="#000" stroke-width="0.1" >Wavelength (nm)</text><text transform="translate(356.2,212.1) rotate(-90)" font-size="9" text-anchor="middle" fill="#000" stroke="#000" stroke-width="0.1">Intensity</text><path d="M363.5 272.1 L364.1 271.97 L364.69 271.83 L365.29 271.67 L365.88 271.51 L366.48 271.33 L367.08 271.14 L367.67 270.93 L368.27 270.71 L368.87 270.48 L369.46 270.23 L370.06 269.96 L370.65 269.67 L371.25 269.37 L371.85 269.04 L372.44 268.7 L373.04 268.33 L373.64 267.94 L374.23 267.53 L374.83 267.09 L375.42 266.63 L376.02 266.14 L376.62 265.63 L377.21 265.08 L377.81 264.51 L378.41 263.9 L379 263.26 L379.6 262.6 L380.19 261.89 L380.79 261.16 L381.39 260.39 L381.98 259.58 L382.58 258.74 L383.18 257.86 L383.77 256.94 L384.37 255.99 L384.96 255 L385.56 253.96 L386.16 252.89 L386.75 251.78 L387.35 250.62 L387.95 249.43 L388.54 248.2 L389.14 246.93 L389.73 245.62 L390.33 244.27 L390.93 242.88 L391.52 241.45 L392.12 239.98 L392.72 238.48 L393.31 236.94 L393.91 235.37 L394.5 233.77 L395.1 232.13 L395.7 230.47 L396.29 228.77 L396.89 227.05 L397.49 225.31 L398.08 223.54 L398.68 221.75 L399.27 219.95 L399.87 218.13 L400.47 216.3 L401.06 214.46 L401.66 212.61 L402.26 210.76 L402.85 208.91 L403.45 207.06 L404.04 205.21 L404.64 203.38 L405.24 201.56 L405.83 199.76 L406.43 197.97 L407.03 196.21 L407.62 194.48 L408.22 192.78 L408.81 191.11 L409.41 189.48 L410.01 187.89 L410.6 186.35 L411.2 184.86 L411.79 183.42 L412.39 182.03 L412.99 180.7 L413.58 179.44 L414.18 178.24 L414.78 177.11 L415.37 176.05 L415.97 175.06 L416.56 174.15 L417.16 173.31 L417.76 172.56 L418.35 171.89 L418.95 171.3 L419.55 170.8 L420.14 170.38 L420.74 170.05 L421.33 169.81 L421.93 169.66 L422.53 169.6 L423.12 169.62 L423.72 169.68 L424.32 169.8 L424.91 169.97 L425.51 170.18 L426.1 170.45 L426.7 170.76 L427.3 171.13 L427.89 171.54 L428.49 172 L429.09 172.51 L429.68 173.06 L430.28 173.66 L430.87 174.3 L431.47 174.99 L432.07 175.72 L432.66 176.49 L433.26 177.3 L433.86 178.15 L434.45 179.04 L435.05 179.97 L435.64 180.93 L436.24 181.93 L436.84 182.96 L437.43 184.02 L438.03 185.12 L438.63 186.24 L439.22 187.39 L439.82 188.57 L440.41 189.77 L441.01 190.99 L441.61 192.23 L442.2 193.5 L442.8 194.78 L443.4 196.08 L443.99 197.4 L444.59 198.73 L445.18 200.07 L445.78 201.43 L446.38 202.79 L446.97 204.16 L447.57 205.54 L448.17 206.92 L448.76 208.31 L449.36 209.69 L449.95 211.08 L450.55 212.47 L451.15 213.86 L451.74 215.24 L452.34 216.62 L452.94 217.99 L453.53 219.36 L454.13 220.72 L454.72 222.07 L455.32 223.41 L455.92 224.74 L456.51 226.05 L457.11 227.36 L457.71 228.65 L458.3 229.92 L458.9 231.18 L459.49 232.42 L460.09 233.65 L460.69 234.86 L461.28 236.05 L461.88 237.22 L462.47 238.37 L463.07 239.5 L463.67 240.61 L464.26 241.7 L464.86 242.77 L465.46 243.82 L466.05 244.85 L466.65 245.85 L467.24 246.83 L467.84 247.79 L468.44 248.73 L469.03 249.65 L469.63 250.54 L470.23 251.41 L470.82 252.26 L471.42 253.08 L472.01 253.88 L472.61 254.66 L473.21 255.42 L473.8 256.16 L474.4 256.88 L475 257.57 L475.59 258.24 L476.19 258.89 L476.78 259.52 L477.38 260.13 L477.98 260.72 L478.57 261.29 L479.17 261.84 L479.77 262.37 L480.36 262.89 L480.96 263.38 L481.55 263.85 L482.15 264.31 L482.75 264.75 L483.34 265.18 L483.94 265.59 L484.54 265.98 L485.13 266.35 L485.73 266.71 L486.32 267.06 L486.92 267.39 L487.52 267.71 L488.11 268.01 L488.71 268.3 L489.31 268.58 L489.9 268.85 L490.5 269.1 L491.09 269.35 L491.69 269.58 L492.29 269.8 L492.88 270.01 L493.48 270.21 L494.08 270.4 L494.67 270.58 L495.27 270.75 L495.86 270.92 L496.46 271.07 L497.06 271.22 L497.65 271.36 L498.25 271.49 L498.85 271.62 L499.44 271.74 L500.04 271.85 L500.63 271.96 L501.23 272.06 L501.83 272.16 L502.42 272.25 L503.02 272.33 L503.62 272.41 L504.21 272.49 L504.81 272.56 L505.4 272.63 L506 272.69" stroke="#6dd36d" stroke-width="1.3" fill="none" stroke-linejoin="round" /><path d="M363.5 272.3 L364.1 272.19 L364.69 272.07 L365.29 271.93 L365.88 271.79 L366.48 271.63 L367.08 271.47 L367.67 271.29 L368.27 271.1 L368.87 270.9 L369.46 270.68 L370.06 270.45 L370.65 270.2 L371.25 269.94 L371.85 269.66 L372.44 269.36 L373.04 269.04 L373.64 268.7 L374.23 268.35 L374.83 267.97 L375.42 267.57 L376.02 267.15 L376.62 266.7 L377.21 266.23 L377.81 265.73 L378.41 265.21 L379 264.66 L379.6 264.08 L380.19 263.47 L380.79 262.83 L381.39 262.17 L381.98 261.47 L382.58 260.74 L383.18 259.98 L383.77 259.19 L384.37 258.36 L384.96 257.5 L385.56 256.61 L386.16 255.68 L386.75 254.71 L387.35 253.72 L387.95 252.69 L388.54 251.62 L389.14 250.52 L389.73 249.38 L390.33 248.21 L390.93 247.01 L391.52 245.78 L392.12 244.51 L392.72 243.21 L393.31 241.88 L393.91 240.52 L394.5 239.13 L395.1 237.71 L395.7 236.27 L396.29 234.81 L396.89 233.32 L397.49 231.81 L398.08 230.28 L398.68 228.73 L399.27 227.17 L399.87 225.6 L400.47 224.01 L401.06 222.42 L401.66 220.82 L402.26 219.22 L402.85 217.61 L403.45 216.01 L404.04 214.42 L404.64 212.83 L405.24 211.26 L405.83 209.7 L406.43 208.15 L407.03 206.63 L407.62 205.13 L408.22 203.66 L408.81 202.21 L409.41 200.8 L410.01 199.43 L410.6 198.1 L411.2 196.8 L411.79 195.56 L412.39 194.36 L412.99 193.21 L413.58 192.12 L414.18 191.08 L414.78 190.1 L415.37 189.18 L415.97 188.32 L416.56 187.54 L417.16 186.81 L417.76 186.16 L418.35 185.58 L418.95 185.07 L419.55 184.64 L420.14 184.28 L420.74 183.99 L421.33 183.79 L421.93 183.65 L422.53 183.6 L423.12 183.61 L423.72 183.67 L424.32 183.77 L424.91 183.92 L425.51 184.1 L426.1 184.33 L426.7 184.61 L427.3 184.92 L427.89 185.28 L428.49 185.68 L429.09 186.12 L429.68 186.6 L430.28 187.11 L430.87 187.67 L431.47 188.26 L432.07 188.9 L432.66 189.56 L433.26 190.27 L433.86 191 L434.45 191.77 L435.05 192.58 L435.64 193.41 L436.24 194.27 L436.84 195.16 L437.43 196.08 L438.03 197.03 L438.63 198 L439.22 198.99 L439.82 200.01 L440.41 201.05 L441.01 202.11 L441.61 203.19 L442.2 204.28 L442.8 205.39 L443.4 206.52 L443.99 207.66 L444.59 208.81 L445.18 209.97 L445.78 211.14 L446.38 212.32 L446.97 213.51 L447.57 214.7 L448.17 215.9 L448.76 217.1 L449.36 218.3 L449.95 219.5 L450.55 220.7 L451.15 221.9 L451.74 223.1 L452.34 224.29 L452.94 225.48 L453.53 226.66 L454.13 227.84 L454.72 229.01 L455.32 230.17 L455.92 231.32 L456.51 232.45 L457.11 233.58 L457.71 234.7 L458.3 235.8 L458.9 236.89 L459.49 237.97 L460.09 239.03 L460.69 240.07 L461.28 241.1 L461.88 242.12 L462.47 243.11 L463.07 244.09 L463.67 245.05 L464.26 246 L464.86 246.92 L465.46 247.83 L466.05 248.72 L466.65 249.59 L467.24 250.44 L467.84 251.27 L468.44 252.08 L469.03 252.87 L469.63 253.64 L470.23 254.4 L470.82 255.13 L471.42 255.84 L472.01 256.54 L472.61 257.21 L473.21 257.87 L473.8 258.51 L474.4 259.13 L475 259.73 L475.59 260.31 L476.19 260.87 L476.78 261.42 L477.38 261.94 L477.98 262.46 L478.57 262.95 L479.17 263.42 L479.77 263.88 L480.36 264.33 L480.96 264.75 L481.55 265.17 L482.15 265.56 L482.75 265.94 L483.34 266.31 L483.94 266.66 L484.54 267 L485.13 267.33 L485.73 267.64 L486.32 267.94 L486.92 268.23 L487.52 268.5 L488.11 268.77 L488.71 269.02 L489.31 269.26 L489.9 269.49 L490.5 269.71 L491.09 269.92 L491.69 270.12 L492.29 270.31 L492.88 270.49 L493.48 270.66 L494.08 270.83 L494.67 270.99 L495.27 271.14 L495.86 271.28 L496.46 271.41 L497.06 271.54 L497.65 271.66 L498.25 271.78 L498.85 271.89 L499.44 271.99 L500.04 272.09 L500.63 272.18 L501.23 272.27 L501.83 272.35 L502.42 272.43 L503.02 272.5 L503.62 272.57 L504.21 272.64 L504.81 272.7 L505.4 272.76 L506 272.81" stroke="#88da88" stroke-width="1.3" fill="none" stroke-linejoin="round" /><path d="M363.5 272.53 L364.1 272.44 L364.69 272.34 L365.29 272.23 L365.88 272.11 L366.48 271.98 L367.08 271.85 L367.67 271.7 L368.27 271.55 L368.87 271.38 L369.46 271.2 L370.06 271.01 L370.65 270.81 L371.25 270.59 L371.85 270.36 L372.44 270.11 L373.04 269.85 L373.64 269.58 L374.23 269.28 L374.83 268.97 L375.42 268.64 L376.02 268.29 L376.62 267.93 L377.21 267.54 L377.81 267.13 L378.41 266.7 L379 266.25 L379.6 265.77 L380.19 265.27 L380.79 264.75 L381.39 264.2 L381.98 263.63 L382.58 263.03 L383.18 262.4 L383.77 261.75 L384.37 261.07 L384.96 260.36 L385.56 259.63 L386.16 258.86 L386.75 258.07 L387.35 257.25 L387.95 256.4 L388.54 255.53 L389.14 254.62 L389.73 253.69 L390.33 252.73 L390.93 251.74 L391.52 250.72 L392.12 249.68 L392.72 248.61 L393.31 247.52 L393.91 246.4 L394.5 245.26 L395.1 244.09 L395.7 242.91 L396.29 241.7 L396.89 240.48 L397.49 239.24 L398.08 237.98 L398.68 236.71 L399.27 235.43 L399.87 234.13 L400.47 232.83 L401.06 231.52 L401.66 230.2 L402.26 228.88 L402.85 227.57 L403.45 226.25 L404.04 224.94 L404.64 223.64 L405.24 222.34 L405.83 221.06 L406.43 219.79 L407.03 218.54 L407.62 217.3 L408.22 216.09 L408.81 214.91 L409.41 213.75 L410.01 212.62 L410.6 211.52 L411.2 210.46 L411.79 209.43 L412.39 208.45 L412.99 207.5 L413.58 206.6 L414.18 205.75 L414.78 204.94 L415.37 204.19 L415.97 203.48 L416.56 202.84 L417.16 202.24 L417.76 201.71 L418.35 201.23 L418.95 200.81 L419.55 200.45 L420.14 200.16 L420.74 199.92 L421.33 199.75 L421.93 199.64 L422.53 199.6 L423.12 199.61 L423.72 199.66 L424.32 199.74 L424.91 199.86 L425.51 200.01 L426.1 200.2 L426.7 200.43 L427.3 200.69 L427.89 200.98 L428.49 201.31 L429.09 201.67 L429.68 202.06 L430.28 202.49 L430.87 202.95 L431.47 203.44 L432.07 203.95 L432.66 204.5 L433.26 205.08 L433.86 205.69 L434.45 206.32 L435.05 206.98 L435.64 207.66 L436.24 208.37 L436.84 209.11 L437.43 209.86 L438.03 210.64 L438.63 211.44 L439.22 212.26 L439.82 213.09 L440.41 213.95 L441.01 214.82 L441.61 215.7 L442.2 216.61 L442.8 217.52 L443.4 218.44 L443.99 219.38 L444.59 220.33 L445.18 221.28 L445.78 222.25 L446.38 223.22 L446.97 224.19 L447.57 225.17 L448.17 226.15 L448.76 227.14 L449.36 228.13 L449.95 229.12 L450.55 230.1 L451.15 231.09 L451.74 232.08 L452.34 233.06 L452.94 234.03 L453.53 235.01 L454.13 235.97 L454.72 236.93 L455.32 237.89 L455.92 238.83 L456.51 239.77 L457.11 240.7 L457.71 241.61 L458.3 242.52 L458.9 243.42 L459.49 244.3 L460.09 245.17 L460.69 246.03 L461.28 246.88 L461.88 247.71 L462.47 248.53 L463.07 249.34 L463.67 250.13 L464.26 250.9 L464.86 251.66 L465.46 252.41 L466.05 253.14 L466.65 253.85 L467.24 254.55 L467.84 255.24 L468.44 255.9 L469.03 256.56 L469.63 257.19 L470.23 257.81 L470.82 258.41 L471.42 259 L472.01 259.57 L472.61 260.13 L473.21 260.67 L473.8 261.19 L474.4 261.7 L475 262.19 L475.59 262.67 L476.19 263.13 L476.78 263.58 L477.38 264.02 L477.98 264.44 L478.57 264.84 L479.17 265.23 L479.77 265.61 L480.36 265.98 L480.96 266.33 L481.55 266.67 L482.15 266.99 L482.75 267.31 L483.34 267.61 L483.94 267.9 L484.54 268.18 L485.13 268.44 L485.73 268.7 L486.32 268.95 L486.92 269.18 L487.52 269.41 L488.11 269.63 L488.71 269.83 L489.31 270.03 L489.9 270.22 L490.5 270.4 L491.09 270.57 L491.69 270.74 L492.29 270.89 L492.88 271.04 L493.48 271.19 L494.08 271.32 L494.67 271.45 L495.27 271.57 L495.86 271.69 L496.46 271.8 L497.06 271.91 L497.65 272.01 L498.25 272.1 L498.85 272.19 L499.44 272.28 L500.04 272.36 L500.63 272.43 L501.23 272.5 L501.83 272.57 L502.42 272.64 L503.02 272.7 L503.62 272.76 L504.21 272.81 L504.81 272.86 L505.4 272.91 L506 272.95" stroke="#b9e8b4" stroke-width="1.3" fill="none" stroke-linejoin="round" /><path d="M363.5 272.68 L364.1 272.6 L364.69 272.51 L365.29 272.42 L365.88 272.32 L366.48 272.21 L367.08 272.09 L367.67 271.96 L368.27 271.83 L368.87 271.68 L369.46 271.53 L370.06 271.37 L370.65 271.19 L371.25 271 L371.85 270.81 L372.44 270.59 L373.04 270.37 L373.64 270.13 L374.23 269.88 L374.83 269.61 L375.42 269.32 L376.02 269.02 L376.62 268.71 L377.21 268.37 L377.81 268.02 L378.41 267.65 L379 267.26 L379.6 266.85 L380.19 266.42 L380.79 265.97 L381.39 265.5 L381.98 265 L382.58 264.48 L383.18 263.94 L383.77 263.38 L384.37 262.8 L384.96 262.19 L385.56 261.55 L386.16 260.89 L386.75 260.21 L387.35 259.51 L387.95 258.77 L388.54 258.02 L389.14 257.24 L389.73 256.43 L390.33 255.6 L390.93 254.75 L391.52 253.88 L392.12 252.98 L392.72 252.06 L393.31 251.11 L393.91 250.15 L394.5 249.17 L395.1 248.16 L395.7 247.14 L396.29 246.1 L396.89 245.04 L397.49 243.97 L398.08 242.89 L398.68 241.79 L399.27 240.69 L399.87 239.57 L400.47 238.45 L401.06 237.32 L401.66 236.18 L402.26 235.05 L402.85 233.91 L403.45 232.78 L404.04 231.65 L404.64 230.52 L405.24 229.41 L405.83 228.3 L406.43 227.21 L407.03 226.13 L407.62 225.06 L408.22 224.02 L408.81 223 L409.41 222 L410.01 221.02 L410.6 220.08 L411.2 219.16 L411.79 218.28 L412.39 217.43 L412.99 216.61 L413.58 215.84 L414.18 215.1 L414.78 214.41 L415.37 213.76 L415.97 213.15 L416.56 212.59 L417.16 212.08 L417.76 211.62 L418.35 211.2 L418.95 210.84 L419.55 210.54 L420.14 210.28 L420.74 210.08 L421.33 209.93 L421.93 209.84 L422.53 209.8 L423.12 209.81 L423.72 209.85 L424.32 209.92 L424.91 210.02 L425.51 210.16 L426.1 210.32 L426.7 210.51 L427.3 210.74 L427.89 210.99 L428.49 211.27 L429.09 211.58 L429.68 211.92 L430.28 212.29 L430.87 212.69 L431.47 213.11 L432.07 213.55 L432.66 214.03 L433.26 214.53 L433.86 215.05 L434.45 215.59 L435.05 216.16 L435.64 216.75 L436.24 217.37 L436.84 218 L437.43 218.65 L438.03 219.32 L438.63 220.01 L439.22 220.71 L439.82 221.43 L440.41 222.17 L441.01 222.92 L441.61 223.69 L442.2 224.46 L442.8 225.25 L443.4 226.05 L443.99 226.85 L444.59 227.67 L445.18 228.49 L445.78 229.32 L446.38 230.16 L446.97 231 L447.57 231.85 L448.17 232.69 L448.76 233.54 L449.36 234.4 L449.95 235.25 L450.55 236.1 L451.15 236.95 L451.74 237.8 L452.34 238.65 L452.94 239.49 L453.53 240.33 L454.13 241.16 L454.72 241.99 L455.32 242.81 L455.92 243.62 L456.51 244.43 L457.11 245.23 L457.71 246.02 L458.3 246.8 L458.9 247.58 L459.49 248.34 L460.09 249.09 L460.69 249.83 L461.28 250.56 L461.88 251.28 L462.47 251.99 L463.07 252.68 L463.67 253.36 L464.26 254.03 L464.86 254.69 L465.46 255.33 L466.05 255.96 L466.65 256.58 L467.24 257.18 L467.84 257.77 L468.44 258.34 L469.03 258.9 L469.63 259.45 L470.23 259.99 L470.82 260.51 L471.42 261.01 L472.01 261.51 L472.61 261.98 L473.21 262.45 L473.8 262.9 L474.4 263.34 L475 263.77 L475.59 264.18 L476.19 264.58 L476.78 264.96 L477.38 265.34 L477.98 265.7 L478.57 266.05 L479.17 266.39 L479.77 266.71 L480.36 267.03 L480.96 267.33 L481.55 267.62 L482.15 267.9 L482.75 268.17 L483.34 268.43 L483.94 268.68 L484.54 268.92 L485.13 269.15 L485.73 269.38 L486.32 269.59 L486.92 269.79 L487.52 269.99 L488.11 270.17 L488.71 270.35 L489.31 270.52 L489.9 270.69 L490.5 270.84 L491.09 270.99 L491.69 271.13 L492.29 271.27 L492.88 271.4 L493.48 271.52 L494.08 271.64 L494.67 271.75 L495.27 271.85 L495.86 271.95 L496.46 272.05 L497.06 272.14 L497.65 272.23 L498.25 272.31 L498.85 272.39 L499.44 272.46 L500.04 272.53 L500.63 272.59 L501.23 272.66 L501.83 272.71 L502.42 272.77 L503.02 272.82 L503.62 272.87 L504.21 272.92 L504.81 272.96 L505.4 273 L506 273.04" stroke="#fccdb2" stroke-width="1.3" fill="none" stroke-linejoin="round" /><path d="M363.5 272.82 L364.1 272.75 L364.69 272.67 L365.29 272.59 L365.88 272.5 L366.48 272.41 L367.08 272.31 L367.67 272.2 L368.27 272.09 L368.87 271.97 L369.46 271.84 L370.06 271.7 L370.65 271.55 L371.25 271.39 L371.85 271.22 L372.44 271.04 L373.04 270.84 L373.64 270.64 L374.23 270.43 L374.83 270.2 L375.42 269.95 L376.02 269.7 L376.62 269.43 L377.21 269.14 L377.81 268.84 L378.41 268.53 L379 268.19 L379.6 267.84 L380.19 267.48 L380.79 267.09 L381.39 266.69 L381.98 266.27 L382.58 265.83 L383.18 265.37 L383.77 264.89 L384.37 264.39 L384.96 263.87 L385.56 263.33 L386.16 262.77 L386.75 262.18 L387.35 261.58 L387.95 260.96 L388.54 260.31 L389.14 259.65 L389.73 258.96 L390.33 258.26 L390.93 257.53 L391.52 256.78 L392.12 256.02 L392.72 255.23 L393.31 254.43 L393.91 253.6 L394.5 252.77 L395.1 251.91 L395.7 251.04 L396.29 250.15 L396.89 249.25 L397.49 248.34 L398.08 247.41 L398.68 246.48 L399.27 245.54 L399.87 244.58 L400.47 243.63 L401.06 242.66 L401.66 241.7 L402.26 240.73 L402.85 239.76 L403.45 238.79 L404.04 237.83 L404.64 236.87 L405.24 235.92 L405.83 234.97 L406.43 234.04 L407.03 233.12 L407.62 232.21 L408.22 231.32 L408.81 230.45 L409.41 229.6 L410.01 228.77 L410.6 227.96 L411.2 227.18 L411.79 226.43 L412.39 225.7 L412.99 225.01 L413.58 224.35 L414.18 223.72 L414.78 223.13 L415.37 222.57 L415.97 222.06 L416.56 221.58 L417.16 221.14 L417.76 220.75 L418.35 220.4 L418.95 220.09 L419.55 219.83 L420.14 219.61 L420.74 219.44 L421.33 219.31 L421.93 219.23 L422.53 219.2 L423.12 219.21 L423.72 219.24 L424.32 219.3 L424.91 219.39 L425.51 219.5 L426.1 219.64 L426.7 219.81 L427.3 220 L427.89 220.22 L428.49 220.46 L429.09 220.72 L429.68 221.01 L430.28 221.32 L430.87 221.66 L431.47 222.02 L432.07 222.4 L432.66 222.8 L433.26 223.23 L433.86 223.67 L434.45 224.14 L435.05 224.63 L435.64 225.13 L436.24 225.65 L436.84 226.19 L437.43 226.75 L438.03 227.32 L438.63 227.9 L439.22 228.51 L439.82 229.12 L440.41 229.75 L441.01 230.39 L441.61 231.04 L442.2 231.7 L442.8 232.37 L443.4 233.05 L443.99 233.74 L444.59 234.44 L445.18 235.14 L445.78 235.85 L446.38 236.56 L446.97 237.28 L447.57 238 L448.17 238.72 L448.76 239.45 L449.36 240.17 L449.95 240.9 L450.55 241.63 L451.15 242.35 L451.74 243.07 L452.34 243.8 L452.94 244.51 L453.53 245.23 L454.13 245.94 L454.72 246.65 L455.32 247.35 L455.92 248.04 L456.51 248.73 L457.11 249.41 L457.71 250.09 L458.3 250.75 L458.9 251.41 L459.49 252.06 L460.09 252.7 L460.69 253.33 L461.28 253.96 L461.88 254.57 L462.47 255.17 L463.07 255.76 L463.67 256.34 L464.26 256.92 L464.86 257.47 L465.46 258.02 L466.05 258.56 L466.65 259.08 L467.24 259.6 L467.84 260.1 L468.44 260.59 L469.03 261.07 L469.63 261.54 L470.23 261.99 L470.82 262.44 L471.42 262.87 L472.01 263.29 L472.61 263.7 L473.21 264.09 L473.8 264.48 L474.4 264.85 L475 265.21 L475.59 265.57 L476.19 265.91 L476.78 266.24 L477.38 266.56 L477.98 266.86 L478.57 267.16 L479.17 267.45 L479.77 267.73 L480.36 268 L480.96 268.25 L481.55 268.5 L482.15 268.74 L482.75 268.97 L483.34 269.19 L483.94 269.41 L484.54 269.61 L485.13 269.81 L485.73 270 L486.32 270.18 L486.92 270.35 L487.52 270.52 L488.11 270.68 L488.71 270.83 L489.31 270.98 L489.9 271.11 L490.5 271.25 L491.09 271.37 L491.69 271.5 L492.29 271.61 L492.88 271.72 L493.48 271.83 L494.08 271.93 L494.67 272.02 L495.27 272.11 L495.86 272.2 L496.46 272.28 L497.06 272.36 L497.65 272.43 L498.25 272.5 L498.85 272.56 L499.44 272.63 L500.04 272.69 L500.63 272.74 L501.23 272.79 L501.83 272.84 L502.42 272.89 L503.02 272.94 L503.62 272.98 L504.21 273.02 L504.81 273.06 L505.4 273.09 L506 273.12" stroke="#f8a271" stroke-width="1.5" fill="none" stroke-linejoin="round" /><path d="M363.5 273.01 L364.1 272.96 L364.69 272.9 L365.29 272.84 L365.88 272.77 L366.48 272.7 L367.08 272.63 L367.67 272.55 L368.27 272.46 L368.87 272.37 L369.46 272.27 L370.06 272.16 L370.65 272.05 L371.25 271.93 L371.85 271.8 L372.44 271.67 L373.04 271.52 L373.64 271.37 L374.23 271.21 L374.83 271.03 L375.42 270.85 L376.02 270.66 L376.62 270.46 L377.21 270.24 L377.81 270.01 L378.41 269.78 L379 269.53 L379.6 269.26 L380.19 268.99 L380.79 268.7 L381.39 268.39 L381.98 268.07 L382.58 267.74 L383.18 267.4 L383.77 267.03 L384.37 266.66 L384.96 266.27 L385.56 265.86 L386.16 265.44 L386.75 265 L387.35 264.54 L387.95 264.07 L388.54 263.59 L389.14 263.09 L389.73 262.57 L390.33 262.04 L390.93 261.49 L391.52 260.92 L392.12 260.35 L392.72 259.76 L393.31 259.15 L393.91 258.53 L394.5 257.9 L395.1 257.25 L395.7 256.6 L396.29 255.93 L396.89 255.25 L397.49 254.56 L398.08 253.86 L398.68 253.16 L399.27 252.45 L399.87 251.73 L400.47 251.01 L401.06 250.28 L401.66 249.56 L402.26 248.83 L402.85 248.1 L403.45 247.37 L404.04 246.64 L404.64 245.92 L405.24 245.2 L405.83 244.49 L406.43 243.79 L407.03 243.09 L407.62 242.41 L408.22 241.74 L408.81 241.08 L409.41 240.44 L410.01 239.81 L410.6 239.2 L411.2 238.62 L411.79 238.05 L412.39 237.5 L412.99 236.98 L413.58 236.48 L414.18 236.01 L414.78 235.56 L415.37 235.14 L415.97 234.75 L416.56 234.39 L417.16 234.06 L417.76 233.77 L418.35 233.5 L418.95 233.27 L419.55 233.07 L420.14 232.91 L420.74 232.78 L421.33 232.68 L421.93 232.62 L422.53 232.6 L423.12 232.61 L423.72 232.63 L424.32 232.68 L424.91 232.74 L425.51 232.83 L426.1 232.93 L426.7 233.06 L427.3 233.2 L427.89 233.37 L428.49 233.55 L429.09 233.75 L429.68 233.96 L430.28 234.2 L430.87 234.45 L431.47 234.72 L432.07 235.01 L432.66 235.32 L433.26 235.64 L433.86 235.97 L434.45 236.32 L435.05 236.69 L435.64 237.07 L436.24 237.46 L436.84 237.87 L437.43 238.29 L438.03 238.72 L438.63 239.16 L439.22 239.61 L439.82 240.08 L440.41 240.55 L441.01 241.03 L441.61 241.52 L442.2 242.02 L442.8 242.53 L443.4 243.04 L443.99 243.56 L444.59 244.08 L445.18 244.61 L445.78 245.15 L446.38 245.68 L446.97 246.22 L447.57 246.77 L448.17 247.31 L448.76 247.86 L449.36 248.41 L449.95 248.95 L450.55 249.5 L451.15 250.05 L451.74 250.59 L452.34 251.14 L452.94 251.68 L453.53 252.22 L454.13 252.75 L454.72 253.29 L455.32 253.81 L455.92 254.34 L456.51 254.86 L457.11 255.37 L457.71 255.88 L458.3 256.38 L458.9 256.88 L459.49 257.37 L460.09 257.85 L460.69 258.33 L461.28 258.8 L461.88 259.26 L462.47 259.71 L463.07 260.16 L463.67 260.6 L464.26 261.02 L464.86 261.45 L465.46 261.86 L466.05 262.26 L466.65 262.66 L467.24 263.05 L467.84 263.43 L468.44 263.8 L469.03 264.16 L469.63 264.51 L470.23 264.85 L470.82 265.19 L471.42 265.51 L472.01 265.83 L472.61 266.14 L473.21 266.43 L473.8 266.72 L474.4 267.01 L475 267.28 L475.59 267.54 L476.19 267.8 L476.78 268.05 L477.38 268.29 L477.98 268.52 L478.57 268.75 L479.17 268.96 L479.77 269.17 L480.36 269.38 L480.96 269.57 L481.55 269.76 L482.15 269.94 L482.75 270.11 L483.34 270.28 L483.94 270.44 L484.54 270.59 L485.13 270.74 L485.73 270.89 L486.32 271.02 L486.92 271.15 L487.52 271.28 L488.11 271.4 L488.71 271.51 L489.31 271.62 L489.9 271.73 L490.5 271.83 L491.09 271.92 L491.69 272.01 L492.29 272.1 L492.88 272.18 L493.48 272.26 L494.08 272.34 L494.67 272.41 L495.27 272.48 L495.86 272.54 L496.46 272.6 L497.06 272.66 L497.65 272.72 L498.25 272.77 L498.85 272.82 L499.44 272.87 L500.04 272.91 L500.63 272.95 L501.23 272.99 L501.83 273.03 L502.42 273.07 L503.02 273.1 L503.62 273.13 L504.21 273.16 L504.81 273.19 L505.4 273.22 L506 273.24" stroke="#f48c4e" stroke-width="1.5" fill="none" stroke-linejoin="round" /><text transform="translate(369.3,172.2) scale(0.9259,1)" font-size="7.88" text-anchor="start" fill="#000" stroke="#000" stroke-width="0.1" >Au<tspan font-size="4.5" dy="2" fill="#555" stroke="#555">22</tspan><tspan dy="-2">-solution</tspan></text><rect x="468.6" y="166" width="13" height="7.45" fill="url(#g0)"/><text transform="translate(483.7,171.9) scale(0.9259,1)" font-size="7.88" text-anchor="start" fill="#000" stroke="#000" stroke-width="0.1" >200 K</text><rect x="468.6" y="173.45" width="13" height="7.45" fill="url(#g1)"/><text transform="translate(483.7,179.35) scale(0.9259,1)" font-size="7.88" text-anchor="start" fill="#000" stroke="#000" stroke-width="0.1" >220 K</text><rect x="468.6" y="180.9" width="13" height="7.45" fill="url(#g2)"/><text transform="translate(483.7,186.8) scale(0.9259,1)" font-size="7.88" text-anchor="start" fill="#000" stroke="#000" stroke-width="0.1" >240 K</text><rect x="468.6" y="188.35" width="13" height="7.45" fill="url(#g3)"/><text transform="translate(483.7,194.25) scale(0.9259,1)" font-size="7.88" text-anchor="start" fill="#000" stroke="#000" stroke-width="0.1" >260 K</text><rect x="468.6" y="195.8" width="13" height="7.45" fill="url(#g4)"/><text transform="translate(483.7,201.7) scale(0.9259,1)" font-size="7.88" text-anchor="start" fill="#000" stroke="#000" stroke-width="0.1" >280 K</text><rect x="468.6" y="203.25" width="13" height="7.45" fill="url(#g5)"/><text transform="translate(483.7,209.15) scale(0.9259,1)" font-size="7.88" text-anchor="start" fill="#000" stroke="#000" stroke-width="0.1" >300 K</text><rect x="542" y="5.5" width="142.5" height="115" fill="none" stroke="#8a8a8a" stroke-width="1"/><path d="M553.3 121v2M577.24 121v2M601.18 121v2M625.12 121v2M649.06 121v2M673 121v2M541.33 121v1.2M565.27 121v1.2M589.21 121v1.2M613.15 121v1.2M637.09 121v1.2M661.03 121v1.2" stroke="#8a8a8a" stroke-width="1" fill="none"/><text transform="translate(554.1,131.1) scale(0.9259,1)" font-size="7.88" text-anchor="middle" fill="#000" stroke="#000" stroke-width="0.1" >200</text><text transform="translate(578.04,131.1) scale(0.9259,1)" font-size="7.88" text-anchor="middle" fill="#000" stroke="#000" stroke-width="0.1" >220</text><text transform="translate(601.98,131.1) scale(0.9259,1)" font-size="7.88" text-anchor="middle" fill="#000" stroke="#000" stroke-width="0.1" >240</text><text transform="translate(625.92,131.1) scale(0.9259,1)" font-size="7.88" text-anchor="middle" fill="#000" stroke="#000" stroke-width="0.1" >260</text><text transform="translate(649.86,131.1) scale(0.9259,1)" font-size="7.88" text-anchor="middle" fill="#000" stroke="#000" stroke-width="0.1" >280</text><text transform="translate(673.8,131.1) scale(0.9259,1)" font-size="7.88" text-anchor="middle" fill="#000" stroke="#000" stroke-width="0.1" >300</text><path d="M541.5 120.5h-2M541.5 82.17h-2M541.5 43.83h-2M541.5 5.5h-2M541.5 101.33h-1.2M541.5 63h-1.2M541.5 24.67h-1.2" stroke="#8a8a8a" stroke-width="1" fill="none"/><text transform="translate(537.2,123.2) scale(0.9259,1)" font-size="7.88" text-anchor="end" fill="#000" stroke="#000" stroke-width="0.1" >220</text><text transform="translate(537.2,84.87) scale(0.9259,1)" font-size="7.88" text-anchor="end" fill="#000" stroke="#000" stroke-width="0.1" >230</text><text transform="translate(537.2,46.53) scale(0.9259,1)" font-size="7.88" text-anchor="end" fill="#000" stroke="#000" stroke-width="0.1" >240</text><text transform="translate(537.2,8.2) scale(0.9259,1)" font-size="7.88" text-anchor="end" fill="#000" stroke="#000" stroke-width="0.1" >250</text><text x="619.3" y="142.9" font-size="9" text-anchor="middle" font-weight="normal" fill="#000" stroke="#000" stroke-width="0.1" >Temperature (K)</text><text transform="translate(520.8,56.9) rotate(-90)" font-size="9" text-anchor="middle" fill="#000" stroke="#000" stroke-width="0.1">FWHM (meV)</text><path d="M553 91.5L673 37.6" stroke="#f7ad76" stroke-width="1"/><rect x="550.8" y="94.4" width="6" height="6" fill="none" stroke="#858585" stroke-width="1"/><rect x="574.7" y="75.6" width="6" height="6" fill="none" stroke="#858585" stroke-width="1"/><rect x="598.4" y="60" width="6" height="6" fill="none" stroke="#858585" stroke-width="1"/><rect x="622" y="48.3" width="6" height="6" fill="none" stroke="#858585" stroke-width="1"/><rect x="645.8" y="44.5" width="6" height="6" fill="none" stroke="#858585" stroke-width="1"/><rect x="669.6" y="41" width="6" height="6" fill="none" stroke="#858585" stroke-width="1"/><rect x="542" y="159.5" width="142.5" height="115" fill="none" stroke="#8a8a8a" stroke-width="1"/><path d="M553.3 275v2M577.24 275v2M601.18 275v2M625.12 275v2M649.06 275v2M673 275v2M541.33 275v1.2M565.27 275v1.2M589.21 275v1.2M613.15 275v1.2M637.09 275v1.2M661.03 275v1.2" stroke="#8a8a8a" stroke-width="1" fill="none"/><text transform="translate(554.1,285.1) scale(0.9259,1)" font-size="7.88" text-anchor="middle" fill="#000" stroke="#000" stroke-width="0.1" >200</text><text transform="translate(578.04,285.1) scale(0.9259,1)" font-size="7.88" text-anchor="middle" fill="#000" stroke="#000" stroke-width="0.1" >220</text><text transform="translate(601.98,285.1) scale(0.9259,1)" font-size="7.88" text-anchor="middle" fill="#000" stroke="#000" stroke-width="0.1" >240</text><text transform="translate(625.92,285.1) scale(0.9259,1)" font-size="7.88" text-anchor="middle" fill="#000" stroke="#000" stroke-width="0.1" >260</text><text transform="translate(649.86,285.1) scale(0.9259,1)" font-size="7.88" text-anchor="middle" fill="#000" stroke="#000" stroke-width="0.1" >280</text><text transform="translate(673.8,285.1) scale(0.9259,1)" font-size="7.88" text-anchor="middle" fill="#000" stroke="#000" stroke-width="0.1" >300</text><path d="M541.5 274.5h-2M541.5 245.75h-2M541.5 217h-2M541.5 188.25h-2M541.5 159.5h-2M541.5 260.12h-1.2M541.5 231.38h-1.2M541.5 202.62h-1.2M541.5 173.88h-1.2" stroke="#8a8a8a" stroke-width="1" fill="none"/><text transform="translate(537.2,277.2) scale(0.9259,1)" font-size="7.88" text-anchor="end" fill="#000" stroke="#000" stroke-width="0.1" >185</text><text transform="translate(537.2,248.45) scale(0.9259,1)" font-size="7.88" text-anchor="end" fill="#000" stroke="#000" stroke-width="0.1" >190</text><text transform="translate(537.2,219.7) scale(0.9259,1)" font-size="7.88" text-anchor="end" fill="#000" stroke="#000" stroke-width="0.1" >195</text><text transform="translate(537.2,190.95) scale(0.9259,1)" font-size="7.88" text-anchor="end" fill="#000" stroke="#000" stroke-width="0.1" >200</text><text transform="translate(537.2,162.2) scale(0.9259,1)" font-size="7.88" text-anchor="end" fill="#000" stroke="#000" stroke-width="0.1" >205</text><text x="619.3" y="296.9" font-size="9" text-anchor="middle" font-weight="normal" fill="#000" stroke="#000" stroke-width="0.1" >Temperature (K)</text><text transform="translate(520.8,211.5) rotate(-90)" font-size="9" text-anchor="middle" fill="#000" stroke="#000" stroke-width="0.1">FWHM (meV)</text><path d="M553.3 240.2L671.3 189.5" stroke="#7fd77f" stroke-width="1"/><rect x="550.6" y="241.8" width="6" height="6" fill="none" stroke="#858585" stroke-width="1"/><rect x="574.4" y="231.1" width="6" height="6" fill="none" stroke="#858585" stroke-width="1"/><rect x="598.3" y="207.8" width="6" height="6" fill="none" stroke="#858585" stroke-width="1"/><rect x="622" y="200.1" width="6" height="6" fill="none" stroke="#858585" stroke-width="1"/><rect x="645.8" y="194" width="6" height="6" fill="none" stroke="#858585" stroke-width="1"/><rect x="669.5" y="189.5" width="6" height="6" fill="none" stroke="#858585" stroke-width="1"/><text transform="translate(549.7,19.8) scale(0.9259,1)" font-size="7.56" text-anchor="start" fill="#000" stroke="#000" stroke-width="0.1" >Au<tspan font-size="4.4" dy="2" fill="#555" stroke="#555">21</tspan><tspan dy="-2">-solution</tspan></text><text transform="translate(549.7,31.65) scale(0.9259,1)" font-size="7.56" text-anchor="start" fill="#000" stroke="#000" stroke-width="0.1" ><tspan font-style="italic">S</tspan><tspan font-size="4.4" dy="2" fill="#555" stroke="#555">ac</tspan><tspan dy="-2">: 3.6 mev</tspan></text><text transform="translate(549.7,43.5) scale(0.9259,1)" font-size="7.56" text-anchor="start" fill="#000" stroke="#000" stroke-width="0.1" ><tspan font-style="italic">E</tspan><tspan font-size="4.4" dy="2" fill="#555" stroke="#555">ac</tspan><tspan dy="-2">: 4.3 meV</tspan></text><text transform="translate(549.7,55.35) scale(0.9259,1)" font-size="7.56" text-anchor="start" fill="#000" stroke="#000" stroke-width="0.1" ><tspan font-style="italic">S</tspan><tspan font-size="4.4" dy="2" fill="#555" stroke="#555">op</tspan><tspan dy="-2">: 137.7 mev</tspan></text><text transform="translate(549.7,67.2) scale(0.9259,1)" font-size="7.56" text-anchor="start" fill="#000" stroke="#000" stroke-width="0.1" ><tspan font-style="italic">E</tspan><tspan font-size="4.4" dy="2" fill="#555" stroke="#555">op</tspan><tspan dy="-2">: 36.1 meV</tspan></text><text transform="translate(549.7,172.3) scale(0.9259,1)" font-size="7.56" text-anchor="start" fill="#000" stroke="#000" stroke-width="0.1" >Au<tspan font-size="4.4" dy="2" fill="#555" stroke="#555">22</tspan><tspan dy="-2">-solution</tspan></text><text transform="translate(549.7,184.15) scale(0.9259,1)" font-size="7.56" text-anchor="start" fill="#000" stroke="#000" stroke-width="0.1" ><tspan font-style="italic">S</tspan><tspan font-size="4.4" dy="2" fill="#555" stroke="#555">ac</tspan><tspan dy="-2">: 3.7 mev</tspan></text><text transform="translate(549.7,196) scale(0.9259,1)" font-size="7.56" text-anchor="start" fill="#000" stroke="#000" stroke-width="0.1" ><tspan font-style="italic">E</tspan><tspan font-size="4.4" dy="2" fill="#555" stroke="#555">ac</tspan><tspan dy="-2">: 6.9 meV</tspan></text><text transform="translate(549.7,207.85) scale(0.9259,1)" font-size="7.56" text-anchor="start" fill="#000" stroke="#000" stroke-width="0.1" ><tspan font-style="italic">S</tspan><tspan font-size="4.4" dy="2" fill="#555" stroke="#555">op</tspan><tspan dy="-2">: 55.3 mev</tspan></text><text transform="translate(549.7,219.7) scale(0.9259,1)" font-size="7.56" text-anchor="start" fill="#000" stroke="#000" stroke-width="0.1" ><tspan font-style="italic">E</tspan><tspan font-size="4.4" dy="2" fill="#555" stroke="#555">op</tspan><tspan dy="-2">: 41.6 meV</tspan></text></svg></body></html>
